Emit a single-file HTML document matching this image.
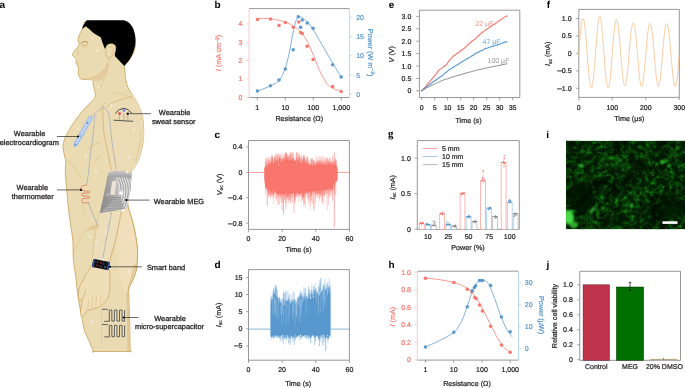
<!DOCTYPE html>
<html><head><meta charset="utf-8"><style>
html,body{margin:0;padding:0;background:#fff;overflow:hidden;}
svg{display:block;will-change:transform;}
text{font-family:"Liberation Sans",sans-serif;text-rendering:geometricPrecision;}
</style></head><body>
<svg width="685" height="388" viewBox="0 0 685 388" font-family="Liberation Sans, sans-serif">
<rect width="685" height="388" fill="#fff"/>
<path d="M87.00,22.00 C93.47,21.83 116.40,20.57 124.00,22.00 C131.60,23.43 130.70,27.03 132.60,30.60 C134.50,34.17 135.28,39.62 135.40,43.40 C135.52,47.18 134.37,50.47 133.30,53.30 C132.23,56.13 130.47,58.28 129.00,60.40 C127.53,62.52 125.15,64.00 124.50,66.00 C123.85,68.00 124.88,70.05 125.10,72.40 C125.32,74.75 125.28,77.52 125.80,80.10 C126.32,82.68 127.17,85.57 128.20,87.90 C129.23,90.23 130.72,92.05 132.00,94.10 C133.28,96.15 134.73,98.15 135.90,100.20 C137.07,102.25 138.10,104.33 139.00,106.40 C139.90,108.47 140.65,110.33 141.30,112.60 C141.95,114.87 142.52,117.43 142.90,120.00 C143.28,122.57 143.52,124.67 143.60,128.00 C143.68,131.33 143.90,135.73 143.40,140.00 C142.90,144.27 141.67,149.77 140.60,153.60 C139.53,157.43 138.52,160.10 137.00,163.00 C135.48,165.90 132.75,166.50 131.50,171.00 C130.25,175.50 130.08,184.17 129.50,190.00 C128.92,195.83 127.30,200.00 128.00,206.00 C128.70,212.00 132.17,219.33 133.70,226.00 C135.23,232.67 136.58,241.00 137.20,246.00 C137.82,251.00 137.50,252.33 137.40,256.00 C137.30,259.67 137.08,264.67 136.60,268.00 C136.12,271.33 135.43,273.42 134.50,276.00 C133.57,278.58 131.97,281.33 131.00,283.50 C130.03,285.67 129.05,286.25 128.70,289.00 C128.35,291.75 128.75,294.83 128.90,300.00 C129.05,305.17 129.40,312.33 129.60,320.00 C129.80,327.67 130.00,340.75 130.10,346.00 C130.20,351.25 130.18,350.58 130.20,351.50 C130.22,352.42 133.23,351.50 130.20,351.50 C127.17,351.50 118.10,351.50 112.00,351.50 C105.90,351.50 96.67,351.50 93.60,351.50 C90.53,351.50 94.40,353.33 93.60,351.50 C92.80,349.67 90.33,344.05 88.80,340.50 C87.27,336.95 85.55,334.07 84.40,330.20 C83.25,326.33 82.75,321.60 81.90,317.30 C81.05,313.00 80.05,308.70 79.30,304.40 C78.55,300.10 77.95,295.78 77.40,291.50 C76.85,287.22 76.53,282.98 76.00,278.70 C75.47,274.42 74.67,269.42 74.20,265.80 C73.73,262.18 73.43,261.30 73.20,257.00 C72.97,252.70 73.27,245.57 72.80,240.00 C72.33,234.43 71.18,229.43 70.40,223.60 C69.62,217.77 68.63,209.80 68.10,205.00 C67.57,200.20 67.55,198.63 67.20,194.80 C66.85,190.97 66.32,186.13 66.00,182.00 C65.68,177.87 65.33,173.33 65.30,170.00 C65.27,166.67 65.92,164.33 65.80,162.00 C65.68,159.67 65.05,158.17 64.60,156.00 C64.15,153.83 63.32,151.08 63.10,149.00 C62.88,146.92 62.90,145.50 63.30,143.50 C63.70,141.50 64.47,139.33 65.50,137.00 C66.53,134.67 68.00,132.08 69.50,129.50 C71.00,126.92 72.87,123.90 74.50,121.50 C76.13,119.10 77.63,117.23 79.30,115.10 C80.97,112.97 82.57,110.85 84.50,108.70 C86.43,106.55 89.15,104.13 90.90,102.20 C92.65,100.27 94.35,99.03 95.00,97.10 C95.65,95.17 95.13,92.75 94.80,90.60 C94.47,88.45 93.43,85.98 93.00,84.20 C92.57,82.42 94.12,80.73 92.20,79.90 C90.28,79.07 83.73,79.95 81.50,79.20 C79.27,78.45 79.33,76.68 78.80,75.40 C78.27,74.12 78.35,72.73 78.30,71.50 C78.25,70.27 78.73,69.17 78.50,68.00 C78.27,66.83 77.33,65.50 76.90,64.50 C76.47,63.50 75.98,62.88 75.90,62.00 C75.82,61.12 76.78,60.10 76.40,59.20 C76.02,58.30 74.27,57.37 73.60,56.60 C72.93,55.83 72.30,55.45 72.40,54.60 C72.50,53.75 73.33,52.68 74.20,51.50 C75.07,50.32 76.75,48.82 77.60,47.50 C78.45,46.18 79.22,44.72 79.30,43.60 C79.38,42.48 78.23,41.90 78.10,40.80 C77.97,39.70 78.10,38.38 78.50,37.00 C78.90,35.62 79.90,33.78 80.50,32.50 C81.10,31.22 81.63,30.50 82.10,29.30 C82.57,28.10 82.78,26.35 83.30,25.30 C83.82,24.25 84.58,23.55 85.20,23.00 C85.82,22.45 80.53,22.17 87.00,22.00Z" fill="#ebdbb3" stroke="#c9a056" stroke-width="0.8" stroke-linejoin="round"/>
<path d="M126.00,205.00 C128.62,205.67 131.83,219.17 133.70,226.00 C135.57,232.83 136.58,241.00 137.20,246.00 C137.82,251.00 137.50,252.33 137.40,256.00 C137.30,259.67 137.08,264.67 136.60,268.00 C136.12,271.33 135.43,273.42 134.50,276.00 C133.57,278.58 131.97,281.33 131.00,283.50 C130.03,285.67 129.62,287.75 128.70,289.00 C127.78,290.25 126.78,292.50 125.50,291.00 C124.22,289.50 122.25,284.83 121.00,280.00 C119.75,275.17 118.83,268.67 118.00,262.00 C117.17,255.33 116.00,246.67 116.00,240.00 C116.00,233.33 116.33,227.83 118.00,222.00 C119.67,216.17 123.38,204.33 126.00,205.00Z" fill="#f0dfba" stroke="none"/>
<path d="M136.4,262 C136,270 133,277 128.8,288.5 L127.2,289 C130,281 132.5,272 133.5,266 Z" fill="#e3cb98"/>
<path d="M128.00,206.00 C128.95,209.33 132.17,219.33 133.70,226.00 C135.23,232.67 136.58,241.00 137.20,246.00 C137.82,251.00 137.50,252.33 137.40,256.00 C137.30,259.67 137.08,264.67 136.60,268.00 C136.12,271.33 135.43,273.42 134.50,276.00 C133.57,278.58 131.97,281.33 131.00,283.50 C130.03,285.67 129.05,286.25 128.70,289.00 C128.35,291.75 128.87,298.17 128.90,300.00" fill="none" stroke="#c9a056" stroke-width="0.8"/>
<path d="M126.6,292 L128.6,289 L129.5,320 L130,351 L127.4,351 Z" fill="#e2c790"/>
<path d="M102.40,103.00 C103.82,99.67 106.73,100.92 110.00,100.00 C113.27,99.08 118.33,98.48 122.00,97.50 C125.67,96.52 129.68,93.65 132.00,94.10 C134.32,94.55 134.73,98.15 135.90,100.20 C137.07,102.25 138.10,104.33 139.00,106.40 C139.90,108.47 140.65,110.33 141.30,112.60 C141.95,114.87 142.52,117.43 142.90,120.00 C143.28,122.57 143.52,124.67 143.60,128.00 C143.68,131.33 143.90,135.73 143.40,140.00 C142.90,144.27 141.67,149.77 140.60,153.60 C139.53,157.43 138.52,160.10 137.00,163.00 C135.48,165.90 136.33,169.50 131.50,171.00 C126.67,172.50 112.58,173.83 108.00,172.00 C103.42,170.17 105.00,165.33 104.00,160.00 C103.00,154.67 102.42,146.67 102.00,140.00 C101.58,133.33 101.43,126.17 101.50,120.00 C101.57,113.83 100.98,106.33 102.40,103.00Z" fill="#ecdcb6" stroke="none"/>
<path d="M103.50,105.50 C103.38,106.58 102.75,107.67 102.80,112.00 C102.85,116.33 103.35,126.50 103.80,131.50 C104.25,136.50 104.85,138.55 105.50,142.00 C106.15,145.45 107.03,149.03 107.70,152.20 C108.37,155.37 108.87,158.00 109.50,161.00 C110.13,164.00 111.17,168.67 111.50,170.20" fill="none" stroke="#c9a056" stroke-width="0.6"/>
<path d="M93.50,165.00 C94.08,164.00 95.72,160.72 97.00,159.00 C98.28,157.28 100.50,155.42 101.20,154.70" fill="none" stroke="#d8b877" stroke-width="0.5"/>
<path d="M105.50,108.50 C106.42,107.67 108.68,104.90 111.00,103.50 C113.32,102.10 116.90,101.02 119.40,100.10 C121.90,99.18 123.85,98.60 126.00,98.00 C128.15,97.40 131.25,96.75 132.30,96.50" fill="none" stroke="#c9a056" stroke-width="0.55"/>
<path d="M141.00,130.00 C140.88,131.67 140.72,136.50 140.30,140.00 C139.88,143.50 139.30,147.45 138.50,151.00 C137.70,154.55 136.00,159.58 135.50,161.30" fill="none" stroke="#d8b877" stroke-width="0.55"/>
<path d="M106.00,102.80 C105.25,103.42 102.42,104.97 101.50,106.50 C100.58,108.03 100.67,111.08 100.50,112.00" fill="none" stroke="#d8b877" stroke-width="0.6"/>
<path d="M99.40,212.00 C103.27,211.28 118.02,209.62 121.50,210.00 C124.98,210.38 121.27,209.33 120.30,214.30 C119.33,219.27 117.43,232.07 115.70,239.80 C113.97,247.53 111.18,255.67 109.90,260.70 C108.62,265.73 110.82,269.12 108.00,270.00 C105.18,270.88 95.58,267.93 93.00,266.00 C90.42,264.07 92.20,263.15 92.50,258.40 C92.80,253.65 93.83,244.85 94.80,237.50 C95.77,230.15 97.53,218.55 98.30,214.30 C99.07,210.05 95.53,212.72 99.40,212.00Z" fill="#eddebb" stroke="none"/>
<path d="M121.50,211.00 C121.00,213.50 119.47,221.20 118.50,226.00 C117.53,230.80 116.70,235.63 115.70,239.80 C114.70,243.97 113.47,247.52 112.50,251.00 C111.53,254.48 110.33,259.08 109.90,260.70" fill="none" stroke="#c9a056" stroke-width="0.7"/>
<path d="M99.40,212.00 C98.92,214.33 97.27,221.75 96.50,226.00 C95.73,230.25 95.33,233.83 94.80,237.50 C94.27,241.17 93.68,244.52 93.30,248.00 C92.92,251.48 92.63,256.67 92.50,258.40" fill="none" stroke="#d8b877" stroke-width="0.6"/>
<path d="M93.20,264.60 C90.02,264.52 90.62,268.02 89.50,269.50 C88.38,270.98 87.73,271.42 86.50,273.50 C85.27,275.58 83.22,279.82 82.10,282.00 C80.98,284.18 80.38,284.87 79.80,286.60 C79.22,288.33 78.80,290.47 78.60,292.40 C78.40,294.33 78.30,296.90 78.60,298.20 C78.90,299.50 79.77,299.98 80.40,300.20 C81.03,300.42 82.22,298.70 82.40,299.50 C82.58,300.30 81.80,303.25 81.50,305.00 C81.20,306.75 80.75,308.43 80.60,310.00 C80.45,311.57 80.35,313.37 80.60,314.40 C80.85,315.43 81.37,316.27 82.10,316.20 C82.83,316.13 84.13,314.95 85.00,314.00 C85.87,313.05 86.23,311.27 87.30,310.50 C88.37,309.73 90.23,309.68 91.40,309.40 C92.57,309.12 93.33,309.08 94.30,308.80 C95.27,308.52 96.13,308.12 97.20,307.70 C98.27,307.28 99.53,307.12 100.70,306.30 C101.87,305.48 103.05,304.15 104.20,302.80 C105.35,301.45 106.73,299.93 107.60,298.20 C108.47,296.47 109.00,294.33 109.40,292.40 C109.80,290.47 109.97,288.67 110.00,286.60 C110.03,284.53 109.83,282.77 109.60,280.00 C109.37,277.23 111.33,272.57 108.60,270.00 C105.87,267.43 96.38,264.68 93.20,264.60Z" fill="#efdfb9" stroke="#c9a056" stroke-width="0.7" stroke-linejoin="round"/>
<path d="M85.60,289.50 C85.33,290.33 84.50,292.92 84.00,294.50 C83.50,296.08 82.83,298.25 82.60,299.00" fill="none" stroke="#c9a056" stroke-width="0.6"/>
<path d="M89.1,299.4 L87.6,309.6" fill="none" stroke="#d8b877" stroke-width="0.5"/>
<path d="M92.6,297 L91.6,309.1" fill="none" stroke="#d8b877" stroke-width="0.5"/>
<path d="M96.6,295.9 L95.6,308.4" fill="none" stroke="#d8b877" stroke-width="0.5"/>
<path d="M101.3,295.9 L100.3,305.8" fill="none" stroke="#d8b877" stroke-width="0.5"/>
<path d="M85.5,231 C89,227.5 94,225.5 98.3,224.5 L98.6,229 C94,229 89.5,230 85.5,231 Z" fill="#e2c995"/>
<path d="M85.50,231.00 C86.25,230.38 88.50,228.22 90.00,227.30 C91.50,226.38 93.12,225.97 94.50,225.50 C95.88,225.03 97.67,224.67 98.30,224.50" fill="none" stroke="#d8b877" stroke-width="0.55"/>
<path d="M85.50,231.00 C84.67,232.17 81.92,235.68 80.50,238.00 C79.08,240.32 78.10,242.73 77.00,244.90 C75.90,247.07 74.42,249.98 73.90,251.00" fill="none" stroke="#d8b877" stroke-width="0.5"/>
<path d="M81.70,204.60 C82.00,205.50 83.12,208.18 83.50,210.00 C83.88,211.82 83.92,214.58 84.00,215.50" fill="none" stroke="#d8b877" stroke-width="0.45"/>
<path d="M87.40,149.80 C88.33,149.00 90.90,146.18 93.00,145.00 C95.10,143.82 98.83,143.08 100.00,142.70" fill="none" stroke="#d8b877" stroke-width="0.5"/>
<path d="M67.90,160.00 C69.08,161.33 72.63,164.78 75.00,168.00 C77.37,171.22 80.92,177.42 82.10,179.30" fill="none" stroke="#d8b877" stroke-width="0.5"/>
<path d="M109.3,57.5 C108.5,65 104,71.5 95,76.6 C90,78.8 86,79.3 82,79.3 L92.4,80.2 C97,81.8 102.5,80.5 105.5,77 C108.2,73 109.4,66 109.3,57.5 Z" fill="#e3cd9e"/>
<path d="M109.3,57.5 C108.5,65 104,71.5 95,76.6 C90,78.8 86,79.3 82,79.3" fill="none" stroke="#d8b877" stroke-width="0.55"/>
<path d="M104.50,79.00 C104.00,80.00 102.50,82.92 101.50,85.00 C100.50,87.08 99.00,90.42 98.50,91.50" fill="none" stroke="#d8b877" stroke-width="0.5"/>
<path d="M113.00,93.00 C114.33,93.08 118.33,92.83 121.00,93.50 C123.67,94.17 126.67,95.75 129.00,97.00 C131.33,98.25 134.00,100.33 135.00,101.00" fill="none" stroke="#d8b877" stroke-width="0.45"/>
<path d="M86.6,20.3 L124,20.3 C129.5,21.5 134,27 135.2,36 C136.2,44 134.6,52 129,60.4 L124.3,66.1 L119.1,60.4 L114.9,56.1 L115.4,47 C113,44 109,43.5 107,45 L104.9,49 L102.8,43.4 L100.7,37.2 L95.9,34.6 L92.8,32.5 L89.2,28.9 L85.6,26.3 L82.1,29.3 L83.3,25.3 Z" fill="#000" stroke="none"/>
<path d="M107.80,44.80 C108.77,44.18 110.70,43.57 112.00,43.80 C113.30,44.03 115.12,44.73 115.60,46.20 C116.08,47.67 115.50,50.95 114.90,52.60 C114.30,54.25 113.30,55.27 112.00,56.10 C110.70,56.93 108.13,58.28 107.10,57.60 C106.07,56.92 105.95,53.68 105.80,52.00 C105.65,50.32 105.87,48.70 106.20,47.50 C106.53,46.30 106.83,45.42 107.80,44.80Z" fill="#ebdbb3" stroke="#c9a056" stroke-width="0.6"/>
<path d="M109.00,47.50 C109.58,47.42 111.83,46.42 112.50,47.00 C113.17,47.58 113.33,49.75 113.00,51.00 C112.67,52.25 110.92,53.92 110.50,54.50" fill="none" stroke="#d8b877" stroke-width="0.5"/>
<path d="M80.6,43.2 Q84,40 88.2,42.4" fill="none" stroke="#c39545" stroke-width="1.0"/>
<path d="M81.3,44.2 Q84.8,47.2 88,43.4" fill="none" stroke="#c9a056" stroke-width="0.6"/>
<path d="M82.5,46.5 Q85,47.8 87.2,46.6" fill="none" stroke="#d8b877" stroke-width="0.45"/>
<path d="M77.6,49.5 Q79,54 77.8,56.5" fill="none" stroke="#d8b877" stroke-width="0.5"/>
<path d="M76.6,63.3 L79.5,63.8" fill="none" stroke="#d8b877" stroke-width="0.5"/>
<path d="M92.00,117.70 C92.48,117.03 93.65,115.10 94.90,113.70 C96.15,112.30 98.00,110.30 99.50,109.30 C101.00,108.30 102.53,107.32 103.90,107.70 C105.27,108.08 106.73,109.67 107.70,111.60 C108.67,113.53 109.05,114.78 109.70,119.30 C110.35,123.82 110.80,132.25 111.60,138.70 C112.40,145.15 113.70,152.87 114.50,158.00 C115.30,163.13 116.08,167.58 116.40,169.50" fill="none" stroke="#a3abb8" stroke-width="0.75"/>
<path d="M94.90,114.30 C94.72,116.62 94.28,123.38 93.80,128.20 C93.32,133.02 92.48,139.57 92.00,143.20 C91.52,146.83 91.27,147.20 90.90,150.00 C90.53,152.80 90.25,155.83 89.80,160.00 C89.35,164.17 88.73,170.92 88.20,175.00 C87.67,179.08 86.87,182.92 86.60,184.50" fill="none" stroke="#a3abb8" stroke-width="0.75"/>
<path d="M88.1,202.2 L98.1,226.6" fill="none" stroke="#a3abb8" stroke-width="0.75"/>
<path d="M111.6,212.1 L102.6,259.1" fill="none" stroke="#a3abb8" stroke-width="0.75"/>
<path d="M101.7,309 L101.7,343.6" fill="none" stroke="#c4c8d0" stroke-width="0.75"/>
<path d="M90.6,116.2 C92.2,116.8 92.4,118.8 91.6,120.2 L77,145.8 C76,147.2 74.2,146.8 73.8,145.4 C73.6,144.6 73.8,144 74.2,143.3 L88.6,117.2 C89.1,116.4 89.8,116 90.6,116.2 Z" fill="#b3cff3" stroke="#7ea6e6" stroke-width="0.55"/>
<path d="M88.5,121 L77.5,141" stroke="#dbe8fa" stroke-width="0.8" stroke-dasharray="1.2 1"/>
<circle cx="87.4" cy="123" r="0.7" fill="#3a5aa0"/><circle cx="75.6" cy="144.6" r="0.7" fill="#3a5aa0"/><circle cx="80.4" cy="136" r="0.5" fill="#3a5aa0"/>
<path d="M115.1,113.4 Q123.6,103.2 131.9,113.4" fill="none" stroke="#222" stroke-width="0.8"/>
<path d="M113.6,120.2 L133.1,121.3" fill="none" stroke="#333" stroke-width="0.8"/>
<path d="M119.5,113.5 L119.5,120.6" stroke="#777" stroke-width="0.4"/>
<path d="M123.9,113.5 L123.9,120.6" stroke="#777" stroke-width="0.4"/>
<path d="M127.8,113.5 L127.8,120.6" stroke="#777" stroke-width="0.4"/>
<circle cx="119.5" cy="113.6" r="1.4" fill="#e8474f"/>
<circle cx="123.9" cy="110.4" r="1.3" fill="#6b86e0"/>
<circle cx="127.8" cy="113.7" r="1.2" fill="#111"/>
<path d="M87.1,185.1 C84,185.2 81,186 81,188.5 C81,190.5 84,191 88.3,191.2 C90.1,191.4 90.1,192.8 88.3,192.9 L83,193.2 C81.2,193.4 81.2,195.6 83,195.8 L88.6,196.3 C90.4,196.5 90.4,198 88.6,198.1 L83,198.5 C81.4,198.7 81.4,203 83.2,203 L89,202.7" fill="none" stroke="#d8805e" stroke-width="0.9"/>
<defs><linearGradient id="megg" x1="0" y1="0" x2="1" y2="0"><stop offset="0" stop-color="#858585"/><stop offset="0.3" stop-color="#a6a6a6"/><stop offset="0.62" stop-color="#bdbdbd"/><stop offset="0.85" stop-color="#d0d0d0"/><stop offset="1" stop-color="#b0b0b0"/></linearGradient><linearGradient id="megr" x1="0" y1="0" x2="0" y2="1"><stop offset="0" stop-color="#c9c9c9"/><stop offset="1" stop-color="#9c9c9c"/></linearGradient><clipPath id="megc"><path d="M108.3,173.1 C112,170.3 126,169.9 131.5,174.4 L130.8,189.2 L127.6,202.1 L126.3,208.6 C118,210.2 108,212 99.9,213.1 L103.1,198.3 L107,178.9 Z"/></clipPath></defs>
<path d="M108.3,173.1 C112,170.3 126,169.9 131.5,174.4 L130.8,189.2 L127.6,202.1 L126.3,208.6 C118,210.2 108,212 99.9,213.1 L103.1,198.3 L107,178.9 Z" fill="url(#megg)"/>
<g clip-path="url(#megc)">
<path d="M117,177 L132,175 L129,210 L118,211 Z" fill="#c2c2c2"/>
<path d="M116.50,176.5 Q124.00,191 115.50,209" fill="none" stroke="#e4e4e4" stroke-width="1.1"/>
<path d="M117.70,176.5 Q125.20,191 116.70,209" fill="none" stroke="#8e8e8e" stroke-width="0.55"/>
<path d="M118.90,176.5 Q126.40,191 117.90,209" fill="none" stroke="#e4e4e4" stroke-width="1.1"/>
<path d="M120.10,176.5 Q127.60,191 119.10,209" fill="none" stroke="#8e8e8e" stroke-width="0.55"/>
<path d="M121.30,176.5 Q128.80,191 120.30,209" fill="none" stroke="#e4e4e4" stroke-width="1.1"/>
<path d="M122.50,176.5 Q130.00,191 121.50,209" fill="none" stroke="#8e8e8e" stroke-width="0.55"/>
<path d="M123.70,176.5 Q131.20,191 122.70,209" fill="none" stroke="#e4e4e4" stroke-width="1.1"/>
<path d="M124.90,176.5 Q132.40,191 123.90,209" fill="none" stroke="#8e8e8e" stroke-width="0.55"/>
<path d="M126.10,176.5 Q133.60,191 125.10,209" fill="none" stroke="#e4e4e4" stroke-width="1.1"/>
<path d="M127.30,176.5 Q134.80,191 126.30,209" fill="none" stroke="#8e8e8e" stroke-width="0.55"/>
<path d="M128.50,176.5 Q136.00,191 127.50,209" fill="none" stroke="#e4e4e4" stroke-width="1.1"/>
<path d="M129.70,176.5 Q137.20,191 128.70,209" fill="none" stroke="#8e8e8e" stroke-width="0.55"/>
<path d="M99,214 L119.5,194 L125,210 Z" fill="#b8b8b8"/>
<path d="M99.00,200.00 Q110.00,196.30 121.00,197.70" fill="none" stroke="#7a7a7a" stroke-width="0.6"/>
<path d="M99.00,202.15 Q110.00,198.45 121.55,199.85" fill="none" stroke="#7a7a7a" stroke-width="0.6"/>
<path d="M99.00,204.30 Q110.00,200.60 122.10,202.00" fill="none" stroke="#7a7a7a" stroke-width="0.6"/>
<path d="M99.00,206.45 Q110.00,202.75 122.65,204.15" fill="none" stroke="#7a7a7a" stroke-width="0.6"/>
<path d="M99.00,208.60 Q110.00,204.90 123.20,206.30" fill="none" stroke="#7a7a7a" stroke-width="0.6"/>
<path d="M99.00,210.75 Q110.00,207.05 123.75,208.45" fill="none" stroke="#7a7a7a" stroke-width="0.6"/>
<path d="M99.00,212.90 Q110.00,209.20 124.30,210.60" fill="none" stroke="#7a7a7a" stroke-width="0.6"/>
<path d="M101,213 L104,190 L110,182 L112.5,196 L119.5,194 Z" fill="#9a9a9a" opacity="0.35"/>
<path d="M107,176 L131.5,176 L131.5,178.8 C125,176.8 113,177 107,179.4 Z" fill="#a8a8a8"/>
<path d="M108.3,173.1 C112,170.3 126,169.9 131.5,174.4 L131.5,177.6 C125,175.6 113,175.8 107.6,178 Z" fill="url(#megr)"/>
</g>
<path d="M112.1,181.5 L116.6,180.8 L114.7,195 L110.2,194.4 Z" fill="#ebe2d6"/>
<circle cx="121.2" cy="193.1" r="2.1" fill="#ffffff" opacity="0.95" filter="url(#fb)"/>
<circle cx="121.2" cy="193.1" r="1.3" fill="#ffffff"/>
<circle cx="123.1" cy="210.3" r="1.4" fill="#ffffff" opacity="0.85"/>
<circle cx="127.2" cy="172.3" r="1.1" fill="#ffffff" opacity="0.8"/>
<circle cx="107.5" cy="194.5" r="0.8" fill="#ffffff" opacity="0.7"/>
<g transform="rotate(11 101 264.2)"><rect x="92.5" y="260.3" width="17" height="8.4" rx="1.5" fill="#1c1f2a"/><rect x="92.5" y="260.3" width="1.7" height="8.4" rx="0.8" fill="#34509a"/><rect x="107.8" y="260.3" width="1.7" height="8.4" rx="0.8" fill="#34509a"/><rect x="94.8" y="261.3" width="12.2" height="6.4" rx="0.6" fill="#0d0f15"/><circle cx="97" cy="262.8" r="0.55" fill="#3c3"/><circle cx="100.4" cy="262.8" r="0.7" fill="#e33"/><circle cx="103.6" cy="263.4" r="0.55" fill="#39f"/><circle cx="105.4" cy="266.2" r="0.7" fill="#2cd"/><rect x="96.6" y="265.7" width="3" height="0.7" fill="#b33"/><rect x="100.5" y="266.3" width="2.2" height="0.6" fill="#e44"/></g>
<path d="M101.9,309.3 H107.9 M104.2,321.3 H109.6" fill="none" stroke="#5a5a5a" stroke-width="0.95"/>
<path d="M109.3,321.3 V310.1 H111.85 V321.10 H114.40 V310.10 H116.95 V321.10 H119.50 V310.10 H122.05 V321.10 H124.60 V310.10" fill="none" stroke="#5a5a5a" stroke-width="0.95" stroke-linejoin="miter"/>
<path d="M101.9,324.6 H107.9 M104.2,336.9 H109.6" fill="none" stroke="#5a5a5a" stroke-width="0.95"/>
<path d="M109.3,336.9 V325.40000000000003 H111.85 V336.70 H114.40 V325.40 H116.95 V336.70 H119.50 V325.40 H122.05 V336.70 H124.60 V325.40" fill="none" stroke="#5a5a5a" stroke-width="0.95" stroke-linejoin="miter"/>
<path d="M99.00,85.80 Q97.40,87.70 98.70,88.80 Q99.60,88.30 99.50,87.30" fill="none" stroke="#ffffff" stroke-width="0.6" opacity="0.95"/>
<path d="M111.80,103.90 Q110.20,105.80 111.50,106.90 Q112.40,106.40 112.30,105.40" fill="none" stroke="#ffffff" stroke-width="0.6" opacity="0.95"/>
<path d="M78.30,127.10 Q76.70,129.00 78.00,130.10 Q78.90,129.60 78.80,128.60" fill="none" stroke="#ffffff" stroke-width="0.6" opacity="0.95"/>
<path d="M86.10,154.10 Q84.50,156.00 85.80,157.10 Q86.70,156.60 86.60,155.60" fill="none" stroke="#ffffff" stroke-width="0.6" opacity="0.95"/>
<path d="M96.40,169.60 Q94.80,171.50 96.10,172.60 Q97.00,172.10 96.90,171.10" fill="none" stroke="#ffffff" stroke-width="0.6" opacity="0.95"/>
<path d="M133.80,128.40 Q132.20,130.30 133.50,131.40 Q134.40,130.90 134.30,129.90" fill="none" stroke="#ffffff" stroke-width="0.6" opacity="0.95"/>
<path d="M129.40,155.40 Q127.80,157.30 129.10,158.40 Q130.00,157.90 129.90,156.90" fill="none" stroke="#ffffff" stroke-width="0.6" opacity="0.95"/>
<path d="M92.60,36.60 Q91.00,38.50 92.30,39.60 Q93.20,39.10 93.10,38.10" fill="none" stroke="#ffffff" stroke-width="0.6" opacity="0.95"/>
<path d="M97.60,49.10 Q96.00,51.00 97.30,52.10 Q98.20,51.60 98.10,50.60" fill="none" stroke="#ffffff" stroke-width="0.6" opacity="0.95"/>
<path d="M90.30,235.10 Q88.70,237.00 90.00,238.10 Q90.90,237.60 90.80,236.60" fill="none" stroke="#ffffff" stroke-width="0.6" opacity="0.95"/>
<path d="M96.50,240.80 Q94.90,242.70 96.20,243.80 Q97.10,243.30 97.00,242.30" fill="none" stroke="#ffffff" stroke-width="0.6" opacity="0.95"/>
<path d="M128.50,269.60 Q126.90,271.50 128.20,272.60 Q129.10,272.10 129.00,271.10" fill="none" stroke="#ffffff" stroke-width="0.6" opacity="0.95"/>
<path d="M92.60,320.10 Q91.00,322.00 92.30,323.10 Q93.20,322.60 93.10,321.60" fill="none" stroke="#ffffff" stroke-width="0.6" opacity="0.95"/>
<path d="M103.30,257.60 Q101.70,259.50 103.00,260.60 Q103.90,260.10 103.80,259.10" fill="none" stroke="#ffffff" stroke-width="0.6" opacity="0.95"/>
<path d="M106.30,230.10 Q104.70,232.00 106.00,233.10 Q106.90,232.60 106.80,231.60" fill="none" stroke="#ffffff" stroke-width="0.6" opacity="0.95"/>
<line x1="129.7" y1="113.7" x2="150.9" y2="113.7" stroke="#2a2a2a" stroke-width="0.7"/>
<line x1="56.9" y1="136.5" x2="78.1" y2="136.5" stroke="#2a2a2a" stroke-width="0.7"/>
<circle cx="78.1" cy="136.5" r="1.1" fill="#000"/>
<line x1="56.9" y1="189.9" x2="81" y2="189.9" stroke="#2a2a2a" stroke-width="0.7"/>
<circle cx="81" cy="189.9" r="1.1" fill="#000"/>
<line x1="126.3" y1="200.1" x2="149.6" y2="200.1" stroke="#2a2a2a" stroke-width="0.7"/>
<circle cx="126.3" cy="200.1" r="1.1" fill="#000"/>
<line x1="109.9" y1="266.8" x2="142" y2="266.8" stroke="#2a2a2a" stroke-width="0.7"/>
<circle cx="109.9" cy="266.8" r="1.1" fill="#000"/>
<line x1="123.6" y1="317.5" x2="138.7" y2="317.5" stroke="#2a2a2a" stroke-width="0.7"/>
<circle cx="123.6" cy="317.5" r="1.0" fill="#000"/>
<text x="174.6" y="115.1" font-size="7.4" text-anchor="middle" fill="#231f20" stroke="#231f20" stroke-width="0.28">Wearable</text>
<text x="173.7" y="124.0" font-size="7.4" text-anchor="middle" fill="#231f20" stroke="#231f20" stroke-width="0.28">sweat sensor</text>
<text x="29.6" y="136.1" font-size="7.4" text-anchor="middle" fill="#231f20" stroke="#231f20" stroke-width="0.28">Wearable</text>
<text x="29.3" y="144.8" font-size="7.4" text-anchor="middle" fill="#231f20" stroke="#231f20" stroke-width="0.28">electrocardiogram</text>
<text x="32.3" y="190.0" font-size="7.4" text-anchor="middle" fill="#231f20" stroke="#231f20" stroke-width="0.28">Wearable</text>
<text x="32.7" y="198.6" font-size="7.4" text-anchor="middle" fill="#231f20" stroke="#231f20" stroke-width="0.28">thermometer</text>
<text x="153.7" y="203.8" font-size="7.4" text-anchor="start" fill="#231f20" stroke="#231f20" stroke-width="0.28">Wearable MEG</text>
<text x="146.9" y="270.0" font-size="7.4" text-anchor="start" fill="#231f20" stroke="#231f20" stroke-width="0.28">Smart band</text>
<text x="170.0" y="320.5" font-size="7.4" text-anchor="middle" fill="#231f20" stroke="#231f20" stroke-width="0.28">Wearable</text>
<text x="169.5" y="329.2" font-size="7.4" text-anchor="middle" fill="#231f20" stroke="#231f20" stroke-width="0.28">micro-supercapacitor</text>
<text x="-0.6" y="7.8" font-size="10" font-weight="bold" style="font-family:'Liberation Sans',sans-serif" fill="#000">a</text>
<text x="214.6" y="7.7" font-size="10" font-weight="bold" style="font-family:'Liberation Sans',sans-serif" fill="#000">b</text>
<text x="214.6" y="137.8" font-size="10" font-weight="bold" style="font-family:'Liberation Sans',sans-serif" fill="#000">c</text>
<text x="214.6" y="267.8" font-size="10" font-weight="bold" style="font-family:'Liberation Sans',sans-serif" fill="#000">d</text>
<text x="388.8" y="7.8" font-size="10" font-weight="bold" style="font-family:'Liberation Sans',sans-serif" fill="#000">e</text>
<text x="546.8" y="7.7" font-size="10" font-weight="bold" style="font-family:'Liberation Sans',sans-serif" fill="#000">f</text>
<text x="388.0" y="137.2" font-size="10.8" font-weight="bold" style="font-family:'Liberation Serif',serif" fill="#000">g</text>
<text x="388.4" y="267.8" font-size="10" font-weight="bold" style="font-family:'Liberation Sans',sans-serif" fill="#000">h</text>
<text x="546.2" y="137.8" font-size="10" font-weight="bold" style="font-family:'Liberation Sans',sans-serif" fill="#000">i</text>
<text x="546.6" y="267.8" font-size="10" font-weight="bold" style="font-family:'Liberation Sans',sans-serif" fill="#000">j</text>
<line x1="249.1" y1="8.6" x2="349.4" y2="8.6" stroke="#8c8c8c" stroke-width="0.9" />
<line x1="249.1" y1="97.5" x2="349.4" y2="97.5" stroke="#8c8c8c" stroke-width="0.9" />
<line x1="249.1" y1="8.6" x2="249.1" y2="97.5" stroke="#fbc4bf" stroke-width="0.9" />
<line x1="349.4" y1="8.6" x2="349.4" y2="97.5" stroke="#b5d5ee" stroke-width="0.9" />
<line x1="246.5" y1="97.3" x2="249.1" y2="97.3" stroke="#fbc4bf" stroke-width="0.8" />
<text x="242.5" y="99.8" font-size="7.0" text-anchor="end" fill="#f8766d"  stroke="#f8766d" stroke-width="0.22">0</text>
<line x1="246.5" y1="78.93" x2="249.1" y2="78.93" stroke="#fbc4bf" stroke-width="0.8" />
<text x="242.5" y="81.43" font-size="7.0" text-anchor="end" fill="#f8766d"  stroke="#f8766d" stroke-width="0.22">1</text>
<line x1="246.5" y1="60.56" x2="249.1" y2="60.56" stroke="#fbc4bf" stroke-width="0.8" />
<text x="242.5" y="63.06" font-size="7.0" text-anchor="end" fill="#f8766d"  stroke="#f8766d" stroke-width="0.22">2</text>
<line x1="246.5" y1="42.19" x2="249.1" y2="42.19" stroke="#fbc4bf" stroke-width="0.8" />
<text x="242.5" y="44.69" font-size="7.0" text-anchor="end" fill="#f8766d"  stroke="#f8766d" stroke-width="0.22">3</text>
<line x1="246.5" y1="23.82" x2="249.1" y2="23.82" stroke="#fbc4bf" stroke-width="0.8" />
<text x="242.5" y="26.32" font-size="7.0" text-anchor="end" fill="#f8766d"  stroke="#f8766d" stroke-width="0.22">4</text>
<line x1="349.4" y1="94.3" x2="352" y2="94.3" stroke="#b5d5ee" stroke-width="0.8" />
<text x="356.2" y="96.8" font-size="7.0" text-anchor="start" fill="#5898cf"  stroke="#5898cf" stroke-width="0.22">0</text>
<line x1="349.4" y1="75.07" x2="352" y2="75.07" stroke="#b5d5ee" stroke-width="0.8" />
<text x="356.2" y="77.57" font-size="7.0" text-anchor="start" fill="#5898cf"  stroke="#5898cf" stroke-width="0.22">5</text>
<line x1="349.4" y1="55.85" x2="352" y2="55.85" stroke="#b5d5ee" stroke-width="0.8" />
<text x="356.2" y="58.35" font-size="7.0" text-anchor="start" fill="#5898cf"  stroke="#5898cf" stroke-width="0.22">10</text>
<line x1="349.4" y1="36.62" x2="352" y2="36.62" stroke="#b5d5ee" stroke-width="0.8" />
<text x="356.2" y="39.12" font-size="7.0" text-anchor="start" fill="#5898cf"  stroke="#5898cf" stroke-width="0.22">15</text>
<line x1="349.4" y1="17.4" x2="352" y2="17.4" stroke="#b5d5ee" stroke-width="0.8" />
<text x="356.2" y="19.9" font-size="7.0" text-anchor="start" fill="#5898cf"  stroke="#5898cf" stroke-width="0.22">20</text>
<line x1="257.3" y1="97.5" x2="257.3" y2="100.3" stroke="#8c8c8c" stroke-width="0.8" />
<text x="257.3" y="109.5" font-size="7.0" text-anchor="middle" fill="#231f20"  stroke="#231f20" stroke-width="0.22">1</text>
<line x1="285.3" y1="97.5" x2="285.3" y2="100.3" stroke="#8c8c8c" stroke-width="0.8" />
<text x="285.3" y="109.5" font-size="7.0" text-anchor="middle" fill="#231f20"  stroke="#231f20" stroke-width="0.22">10</text>
<line x1="313.3" y1="97.5" x2="313.3" y2="100.3" stroke="#8c8c8c" stroke-width="0.8" />
<text x="313.3" y="109.5" font-size="7.0" text-anchor="middle" fill="#231f20"  stroke="#231f20" stroke-width="0.22">100</text>
<line x1="341.3" y1="97.5" x2="341.3" y2="100.3" stroke="#8c8c8c" stroke-width="0.8" />
<text x="341.3" y="109.5" font-size="7.0" text-anchor="middle" fill="#231f20"  stroke="#231f20" stroke-width="0.22">1,000</text>
<text x="299.25" y="120.9" font-size="7.2" text-anchor="middle" fill="#231f20"  stroke="#231f20" stroke-width="0.22">Resistance (Ω)</text>
<text x="221.2" y="53" font-size="7.2" text-anchor="middle" fill="#f8766d" transform="rotate(-90 221.2 53)" stroke="#f8766d" stroke-width="0.22"><tspan font-style="italic">I</tspan> (mA cm<tspan font-size="5" dy="-2.6">−2</tspan><tspan dy="2.6">)</tspan></text>
<text x="367.9" y="52.5" font-size="7.2" text-anchor="middle" fill="#5898cf" transform="rotate(90 367.9 52.5)" stroke="#5898cf" stroke-width="0.22">Power (W m<tspan font-size="5" dy="-2.6">−2</tspan><tspan dy="2.6">)</tspan></text>
<polyline points="257.4,18.4 258.05,18.42 258.86,18.43 259.82,18.43 260.89,18.44 262.05,18.45 263.28,18.46 264.56,18.49 265.87,18.53 267.18,18.59 268.47,18.67 269.72,18.77 270.9,18.9 272.06,19.06 273.25,19.24 274.45,19.43 275.67,19.65 276.9,19.89 278.11,20.14 279.31,20.4 280.49,20.68 281.64,20.97 282.74,21.27 283.8,21.58 284.8,21.9 285.74,22.23 286.64,22.57 287.5,22.93 288.33,23.3 289.12,23.68 289.89,24.07 290.63,24.48 291.35,24.89 292.05,25.31 292.74,25.73 293.42,26.16 294.1,26.6 294.76,27.04 295.4,27.48 296.02,27.92 296.62,28.37 297.2,28.82 297.77,29.29 298.32,29.76 298.87,30.26 299.41,30.76 299.94,31.29 300.47,31.83 301,32.4 301.52,32.98 302.03,33.56 302.53,34.16 303.01,34.76 303.49,35.38 303.97,36.02 304.44,36.68 304.91,37.37 305.38,38.1 305.85,38.86 306.32,39.66 306.8,40.5 307.29,41.4 307.78,42.36 308.28,43.38 308.77,44.43 309.27,45.52 309.77,46.63 310.26,47.75 310.75,48.88 311.23,49.99 311.7,51.09 312.16,52.17 312.6,53.2 313.03,54.21 313.45,55.21 313.85,56.2 314.25,57.19 314.64,58.17 315.03,59.14 315.4,60.1 315.78,61.06 316.16,62 316.54,62.94 316.92,63.88 317.3,64.8 317.68,65.72 318.06,66.63 318.43,67.53 318.8,68.43 319.16,69.31 319.53,70.19 319.9,71.07 320.28,71.93 320.67,72.79 321.07,73.63 321.47,74.47 321.9,75.3 322.34,76.13 322.8,76.98 323.27,77.83 323.74,78.68 324.23,79.52 324.73,80.35 325.22,81.15 325.72,81.93 326.22,82.67 326.72,83.36 327.21,84.01 327.7,84.6 328.18,85.13 328.64,85.6 329.1,86.03 329.55,86.41 330,86.76 330.46,87.08 330.92,87.38 331.4,87.65 331.89,87.92 332.4,88.18 332.94,88.43 333.5,88.7 334.12,88.97 334.81,89.23 335.55,89.48 336.33,89.71 337.12,89.94 337.91,90.16 338.68,90.36 339.41,90.54 340.09,90.71 340.69,90.86 341.2,90.99 341.6,91.1" fill="none" stroke="#f8766d" stroke-width="0.8" stroke-linejoin="round" />
<polyline points="257.4,91.1 258.07,90.84 258.93,90.51 259.95,90.13 261.1,89.7 262.34,89.23 263.64,88.73 264.97,88.22 266.3,87.69 267.59,87.17 268.81,86.66 269.92,86.16 270.9,85.7 271.77,85.27 272.59,84.88 273.36,84.5 274.09,84.13 274.77,83.77 275.43,83.39 276.06,83 276.67,82.58 277.26,82.12 277.85,81.61 278.42,81.04 279,80.4 279.57,79.71 280.11,78.98 280.64,78.22 281.15,77.42 281.64,76.58 282.12,75.71 282.58,74.79 283.04,73.82 283.49,72.81 283.93,71.76 284.37,70.65 284.8,69.5 285.23,68.28 285.65,66.99 286.06,65.64 286.46,64.23 286.86,62.77 287.24,61.28 287.62,59.76 287.99,58.23 288.36,56.69 288.71,55.14 289.06,53.61 289.4,52.1 289.73,50.58 290.05,49.02 290.35,47.42 290.65,45.81 290.94,44.2 291.22,42.58 291.5,40.98 291.77,39.4 292.05,37.85 292.33,36.34 292.61,34.89 292.9,33.5 293.19,32.14 293.49,30.78 293.79,29.43 294.09,28.11 294.39,26.81 294.69,25.56 294.99,24.37 295.29,23.24 295.57,22.18 295.86,21.22 296.13,20.35 296.4,19.6 296.65,18.96 296.89,18.44 297.12,18.02 297.33,17.68 297.55,17.42 297.76,17.23 297.97,17.09 298.19,17 298.42,16.93 298.66,16.88 298.92,16.84 299.2,16.8 299.49,16.76 299.79,16.75 300.09,16.76 300.4,16.81 300.71,16.88 301.04,16.99 301.39,17.13 301.75,17.3 302.13,17.52 302.53,17.77 302.95,18.06 303.4,18.4 303.87,18.77 304.37,19.16 304.88,19.58 305.41,20.03 305.96,20.52 306.53,21.06 307.12,21.64 307.72,22.27 308.34,22.95 308.98,23.7 309.63,24.52 310.3,25.4 310.99,26.37 311.71,27.44 312.46,28.58 313.22,29.79 314,31.06 314.8,32.38 315.6,33.72 316.41,35.09 317.22,36.46 318.02,37.83 318.82,39.18 319.6,40.5 320.38,41.83 321.18,43.19 321.98,44.58 322.79,45.99 323.6,47.4 324.4,48.82 325.2,50.22 325.98,51.6 326.74,52.95 327.49,54.25 328.21,55.51 328.9,56.7 329.56,57.84 330.2,58.93 330.82,59.98 331.42,60.99 332,61.98 332.57,62.93 333.12,63.86 333.67,64.77 334.21,65.67 334.74,66.55 335.27,67.43 335.8,68.3 336.34,69.19 336.9,70.09 337.46,71 338.03,71.91 338.59,72.81 339.13,73.67 339.65,74.5 340.14,75.27 340.58,75.98 340.98,76.61 341.32,77.16 341.6,77.6" fill="none" stroke="#5898cf" stroke-width="0.8" stroke-linejoin="round" />
<circle cx="257.4" cy="19.6" r="1.75" fill="#f8766d"/>
<circle cx="270.4" cy="19.1" r="1.75" fill="#f8766d"/>
<circle cx="279" cy="25.4" r="1.75" fill="#f8766d"/>
<circle cx="285.3" cy="22.6" r="1.75" fill="#f8766d"/>
<circle cx="293.2" cy="27.3" r="1.75" fill="#f8766d"/>
<circle cx="298.7" cy="21.9" r="1.75" fill="#f8766d"/>
<circle cx="300.6" cy="32.4" r="1.75" fill="#f8766d"/>
<circle cx="302.2" cy="33.5" r="1.75" fill="#f8766d"/>
<circle cx="307.1" cy="46.3" r="1.75" fill="#f8766d"/>
<circle cx="313.1" cy="59.5" r="1.75" fill="#f8766d"/>
<circle cx="332.6" cy="86.4" r="1.75" fill="#f8766d"/>
<circle cx="341.2" cy="91.5" r="1.75" fill="#f8766d"/>
<circle cx="257.4" cy="91.1" r="1.75" fill="#5898cf"/>
<circle cx="270.4" cy="85.7" r="1.75" fill="#5898cf"/>
<circle cx="279" cy="79.9" r="1.75" fill="#5898cf"/>
<circle cx="285.3" cy="69" r="1.75" fill="#5898cf"/>
<circle cx="293.2" cy="49.8" r="1.75" fill="#5898cf"/>
<circle cx="298.3" cy="16.8" r="1.75" fill="#5898cf"/>
<circle cx="302.2" cy="20.1" r="1.75" fill="#5898cf"/>
<circle cx="300.6" cy="27.3" r="1.75" fill="#5898cf"/>
<circle cx="307.3" cy="23.1" r="1.75" fill="#5898cf"/>
<circle cx="313.1" cy="28.2" r="1.75" fill="#5898cf"/>
<circle cx="332.6" cy="64.8" r="1.75" fill="#5898cf"/>
<circle cx="341.2" cy="77.1" r="1.75" fill="#5898cf"/>
<line x1="248.5" y1="140.5" x2="349.4" y2="140.5" stroke="#8c8c8c" stroke-width="0.9" />
<line x1="248.5" y1="229.4" x2="349.4" y2="229.4" stroke="#8c8c8c" stroke-width="0.9" />
<line x1="248.5" y1="140.5" x2="248.5" y2="229.4" stroke="#8c8c8c" stroke-width="0.9" />
<line x1="349.4" y1="140.5" x2="349.4" y2="229.4" stroke="#8c8c8c" stroke-width="0.9" />
<line x1="248.5" y1="229.4" x2="248.5" y2="232.2" stroke="#8c8c8c" stroke-width="0.8" />
<line x1="246.1" y1="146.86" x2="248.5" y2="146.86" stroke="#8c8c8c" stroke-width="0.8" />
<text x="242.5" y="149.36" font-size="7.0" text-anchor="end" fill="#231f20"  stroke="#231f20" stroke-width="0.22">0.4</text>
<line x1="246.1" y1="172.3" x2="248.5" y2="172.3" stroke="#8c8c8c" stroke-width="0.8" />
<text x="242.5" y="174.8" font-size="7.0" text-anchor="end" fill="#231f20"  stroke="#231f20" stroke-width="0.22">0</text>
<line x1="246.1" y1="197.74" x2="248.5" y2="197.74" stroke="#8c8c8c" stroke-width="0.8" />
<text x="242.5" y="200.24" font-size="7.0" text-anchor="end" fill="#231f20"  stroke="#231f20" stroke-width="0.22"><tspan font-size="8.4">–</tspan>0.4</text>
<line x1="246.1" y1="223.18" x2="248.5" y2="223.18" stroke="#8c8c8c" stroke-width="0.8" />
<text x="242.5" y="225.68" font-size="7.0" text-anchor="end" fill="#231f20"  stroke="#231f20" stroke-width="0.22"><tspan font-size="8.4">–</tspan>0.8</text>
<line x1="282.13" y1="229.4" x2="282.13" y2="232.2" stroke="#8c8c8c" stroke-width="0.8" />
<text x="282.13" y="241.3" font-size="7.0" text-anchor="middle" fill="#231f20"  stroke="#231f20" stroke-width="0.22">20</text>
<line x1="315.77" y1="229.4" x2="315.77" y2="232.2" stroke="#8c8c8c" stroke-width="0.8" />
<text x="315.77" y="241.3" font-size="7.0" text-anchor="middle" fill="#231f20"  stroke="#231f20" stroke-width="0.22">40</text>
<line x1="349.4" y1="229.4" x2="349.4" y2="232.2" stroke="#8c8c8c" stroke-width="0.8" />
<text x="349.4" y="241.3" font-size="7.0" text-anchor="middle" fill="#231f20"  stroke="#231f20" stroke-width="0.22">60</text>
<text x="248.5" y="241.3" font-size="7.0" text-anchor="middle" fill="#231f20"  stroke="#231f20" stroke-width="0.22">0</text>
<text x="298.5" y="252" font-size="7.2" text-anchor="middle" fill="#231f20"  stroke="#231f20" stroke-width="0.22">Time (s)</text>
<text x="221.6" y="184.5" font-size="7.2" text-anchor="middle" fill="#231f20" transform="rotate(-90 221.6 184.5)" stroke="#231f20" stroke-width="0.22"><tspan font-style="italic">V</tspan><tspan font-size="5" dy="1.4">oc</tspan><tspan dy="-1.4"> (V)</tspan></text>
<line x1="248.5" y1="172.4" x2="265" y2="172.4" stroke="#f8766d" stroke-width="0.7" />
<line x1="337" y1="172.4" x2="349.4" y2="172.4" stroke="#f8766d" stroke-width="0.7" />
<path d="M264.2,167.15 L264.55,168.1 L264.9,166.64 L265.25,168.87 L265.6,165.51 L265.95,166.86 L266.3,165.76 L266.65,165.2 L267,166.53 L267.35,166.79 L267.7,164.26 L268.05,163.88 L268.4,163.69 L268.75,164.6 L269.1,163.89 L269.45,163.92 L269.8,165.24 L270.15,166.35 L270.5,163.2 L270.85,163.27 L271.2,164.07 L271.55,163.2 L271.9,163.68 L272.25,163.22 L272.6,164.81 L272.95,163.2 L273.3,164.58 L273.65,161.84 L274,163.9 L274.35,162.82 L274.7,161.23 L275.05,161.96 L275.4,161.01 L275.75,163.78 L276.1,163.22 L276.45,161.51 L276.8,161.43 L277.15,160.97 L277.5,160.95 L277.85,160.81 L278.2,163.77 L278.55,166.2 L278.9,160.61 L279.25,160.66 L279.6,160.81 L279.95,160.95 L280.3,163.28 L280.65,161.7 L281,161.32 L281.35,161.91 L281.7,161.31 L282.05,162 L282.4,161.65 L282.75,162.14 L283.1,159.88 L283.45,161.65 L283.8,159.9 L284.15,161.44 L284.5,161.77 L284.85,159.9 L285.2,160.76 L285.55,160.16 L285.9,160.23 L286.25,160.1 L286.6,161.4 L286.95,159.58 L287.3,160.76 L287.65,160.5 L288,161.07 L288.35,160.1 L288.7,159.68 L289.05,162.01 L289.4,160.08 L289.75,160.06 L290.1,160.34 L290.45,159.93 L290.8,160.34 L291.15,160.58 L291.5,160.33 L291.85,160.95 L292.2,161.07 L292.55,159.9 L292.9,160.81 L293.25,160.86 L293.6,160.33 L293.95,160.63 L294.3,160.34 L294.65,160.76 L295,160.2 L295.35,160.82 L295.7,161.32 L296.05,160.71 L296.4,163.74 L296.75,163.35 L297.1,163.52 L297.45,160.96 L297.8,160.04 L298.15,160.98 L298.5,160.34 L298.85,160.08 L299.2,161.19 L299.55,160.39 L299.9,162.36 L300.25,163.49 L300.6,162.3 L300.95,163.37 L301.3,161.5 L301.65,162.01 L302,164.37 L302.35,162.37 L302.7,161.44 L303.05,164.29 L303.4,162.29 L303.75,164.68 L304.1,163.28 L304.45,164.63 L304.8,162.31 L305.15,164.56 L305.5,163.71 L305.85,162.87 L306.2,164.38 L306.55,162.94 L306.9,163.84 L307.25,163.63 L307.6,166.44 L307.95,165.1 L308.3,164.06 L308.65,164.87 L309,164.8 L309.35,164.02 L309.7,164.95 L310.05,163.83 L310.4,164.38 L310.75,165.02 L311.1,163.82 L311.45,164.21 L311.8,164.9 L312.15,165.99 L312.5,165.66 L312.85,164.66 L313.2,165.9 L313.55,165.02 L313.9,166.44 L314.25,164.93 L314.6,165.77 L314.95,163.64 L315.3,165.6 L315.65,165.25 L316,164.13 L316.35,163.71 L316.7,165.2 L317.05,164.39 L317.4,163.57 L317.75,164.11 L318.1,164.23 L318.45,166.54 L318.8,165.73 L319.15,164.91 L319.5,165.51 L319.85,163.63 L320.2,163.71 L320.55,163.67 L320.9,163.52 L321.25,164.81 L321.6,166.26 L321.95,163.55 L322.3,163.5 L322.65,163.54 L323,164.58 L323.35,164.48 L323.7,165.13 L324.05,165.13 L324.4,163.52 L324.75,164.48 L325.1,164.39 L325.45,165.78 L325.8,164.23 L326.15,165.69 L326.5,165.17 L326.85,165.89 L327.2,163.99 L327.55,164.17 L327.9,163.96 L328.25,164.93 L328.6,164.21 L328.95,166.18 L329.3,164.59 L329.65,163.57 L330,165.06 L330.35,164.21 L330.7,164.71 L331.05,166.55 L331.4,165.65 L331.75,166.47 L332.1,164.39 L332.45,166.04 L332.8,164.5 L333.15,163.99 L333.5,164.88 L333.85,164.17 L334.2,165.93 L334.55,165 L334.9,164.91 L335.25,165.59 L335.6,166.96 L335.95,165.08 L336.3,165.98 L336.65,165.81 L337,168.64 L337.35,166.89 L337.7,168.99 L337.7,180.01 L337.35,180.3 L337,180.67 L336.65,182.24 L336.3,181.95 L335.95,180.87 L335.6,181.87 L335.25,182.69 L334.9,184.32 L334.55,184.99 L334.2,182.8 L333.85,184.33 L333.5,187.1 L333.15,183.76 L332.8,186.85 L332.45,188.03 L332.1,186.7 L331.75,188.14 L331.4,188.68 L331.05,185.31 L330.7,186.9 L330.35,188.25 L330,189.6 L329.65,189.67 L329.3,189.58 L328.95,188.8 L328.6,188.24 L328.25,187.16 L327.9,189.94 L327.55,189.02 L327.2,189.9 L326.85,190.2 L326.5,190.16 L326.15,189.65 L325.8,190.64 L325.45,190.98 L325.1,189.53 L324.75,188.77 L324.4,190.35 L324.05,191.05 L323.7,190.42 L323.35,190.04 L323,190.23 L322.65,189.85 L322.3,189.26 L321.95,190.5 L321.6,190.36 L321.25,191.03 L320.9,187.86 L320.55,190.88 L320.2,189.75 L319.85,191.26 L319.5,191.09 L319.15,189.04 L318.8,189.64 L318.45,191.34 L318.1,191.14 L317.75,191.46 L317.4,191.41 L317.05,191.89 L316.7,190.66 L316.35,189.92 L316,189.71 L315.65,189.18 L315.3,190.01 L314.95,190.31 L314.6,190.42 L314.25,191.54 L313.9,190.7 L313.55,191.47 L313.2,191.68 L312.85,191.97 L312.5,191.11 L312.15,192.26 L311.8,191.71 L311.45,190.26 L311.1,190.88 L310.75,190.88 L310.4,191.98 L310.05,190.97 L309.7,191.15 L309.35,191.33 L309,191.97 L308.65,190.98 L308.3,191.65 L307.95,192.04 L307.6,192.6 L307.25,192.76 L306.9,192.99 L306.55,193.27 L306.2,192.61 L305.85,191.59 L305.5,193.23 L305.15,191.41 L304.8,193.62 L304.45,192.52 L304.1,191.48 L303.75,193.43 L303.4,193.3 L303.05,193.84 L302.7,191.14 L302.35,193.47 L302,192.55 L301.65,192.92 L301.3,193.48 L300.95,194.54 L300.6,193.61 L300.25,193.37 L299.9,193.6 L299.55,194.54 L299.2,194.29 L298.85,194.38 L298.5,193.55 L298.15,193.31 L297.8,191.91 L297.45,194.45 L297.1,193.37 L296.75,191.71 L296.4,194.82 L296.05,194.48 L295.7,194.12 L295.35,193.54 L295,193.68 L294.65,193.93 L294.3,193.5 L293.95,192.73 L293.6,193.69 L293.25,192 L292.9,194.67 L292.55,194.05 L292.2,193.68 L291.85,192.85 L291.5,194.06 L291.15,193.34 L290.8,193.52 L290.45,194.11 L290.1,193.22 L289.75,193.68 L289.4,193.73 L289.05,193.68 L288.7,194.4 L288.35,193.29 L288,193.18 L287.65,193.71 L287.3,193.97 L286.95,192.97 L286.6,191.05 L286.25,194.65 L285.9,192.19 L285.55,193.36 L285.2,193.42 L284.85,194.28 L284.5,194.41 L284.15,193.61 L283.8,194.6 L283.45,194.4 L283.1,193.31 L282.75,193.58 L282.4,193.95 L282.05,193.83 L281.7,192.94 L281.35,194.15 L281,193.68 L280.65,190.89 L280.3,193.76 L279.95,194 L279.6,193.04 L279.25,194.35 L278.9,193.98 L278.55,194.37 L278.2,191.51 L277.85,193.15 L277.5,194.23 L277.15,194.2 L276.8,191.9 L276.45,194.04 L276.1,193.01 L275.75,190.67 L275.4,193.94 L275.05,192.68 L274.7,193.3 L274.35,193.05 L274,190.89 L273.65,193.08 L273.3,189.92 L272.95,190.27 L272.6,191.72 L272.25,191.61 L271.9,193.1 L271.55,192.05 L271.2,192.5 L270.85,191.88 L270.5,192.07 L270.15,191.14 L269.8,190.51 L269.45,188.61 L269.1,188.75 L268.75,190.47 L268.4,191.29 L268.05,189.38 L267.7,190.57 L267.35,190.21 L267,187.69 L266.65,188.91 L266.3,187.56 L265.95,188.58 L265.6,186.97 L265.25,186.4 L264.9,184.35 L264.55,181.3 L264.2,179Z" fill="#f8766d" stroke="none"/>
<path d="M265.99,185.68V190.51 M296.25,191.93V197.92 M280.31,191.61V198.57 M332.85,185.09V190.32 M303.88,191.03V194.6 M284.87,191.7V199.62 M273.43,190.83V203.65 M329.57,187.06V190.52 M331.86,185.68V190.79 M319.96,188.67V198.04 M286.34,191.73V199.8 M311.61,189.37V199.75 M284.22,191.68V201 M333.27,184.64V192.66 M303.3,191.18V194.72 M300.32,191.92V196.87 M316.13,188.99V197.1 M305.43,190.64V194.55 M311.02,189.42V196.9 M278.13,191.56V204.49 M311.7,189.36V192.95 M331.2,186.08V189.77 M288.87,191.78V200.51 M307.62,190.1V196.74 M311.15,189.4V195.16 M287.53,191.75V195.62 M270.34,189.5V198.16 M318.69,188.78V195.3 M317.64,188.86V193.87 M284.24,191.68V196.86 M327.01,188.08V191.28 M301.08,191.73V196.01 M319.71,188.69V193.66 M288.97,191.78V197.1 M303.68,191.08V200.73 M290.38,191.81V203.25 M273.41,190.82V195.24 M272.53,190.44V193.98 M320.42,188.63V197.48 M278.53,191.57V195.51 M294.87,191.9V201.02 M323.01,188.42V197.63 M307.23,190.19V193.91 M293.59,191.87V195.84 M302.7,191.33V198.11 M279.75,191.59V195.89 M320.61,188.62V191.75 M322.12,188.49V201.47 M332.43,185.34V190.52 M304.46,190.89V197.82 M310.17,189.49V209.46 M313.91,189.17V193.78 M326.13,188.16V194.13 M307.9,190.03V198.87 M265.67,185.23V194.86 M312.17,189.32V195.37 M302.42,191.4V197.17 M279.14,191.58V197.98 M268.11,188.55V194.67 M311.04,189.41V195.06 M305.4,190.65V208.03 M328.39,187.77V191.42 M321.36,188.55V195.95 M269.07,188.96V193.97 M281.96,191.64V195 M303.49,191.13V206.08 M288.28,191.77V203.96 M314.47,189.13V192.78 M326.01,188.17V195.3 M330.85,186.29V194.95 M317.65,188.86V193.76 M322.37,188.47V203.55 M326.23,188.15V193.73 M318.86,188.76V194.75 M273.19,190.73V193.92 M270.99,189.78V193.79 M276.84,191.54V197.63 M314.8,189.1V195.57 M295.26,191.91V199.62 M286.98,191.74V197.55 M318.88,188.76V194.07 M278.23,191.56V204.9 M316.24,188.98V194.04 M291.65,191.83V198.22 M307.55,190.11V194.25 M265.69,185.27V189.32 M320.71,188.61V192.3 M297.93,191.96V195.94 M280.25,191.61V195.45 M293.96,191.88V195.71 M267.44,187.71V191.24 M277.36,191.55V197.58 M269.71,189.23V192.33 M297.09,191.94V197.3 M315.09,189.08V192.31 M293.93,191.88V197.15 M267.38,187.63V205.79 M280.93,191.62V195.06 M298.96,191.98V195.79 M309.38,189.65V194.57 M274.24,191.17V194.41 M316.8,188.93V193.38 M321.04,188.58V194.4 M331.27,186.04V190.65 M283.12,191.66V196.05 M322.93,188.42V195.89 M289.8,191.8V195.24 M313.61,189.2V207.87 M307.25,190.19V193.2 M267.64,187.99V191.42 M277.51,191.55V194.72 M269.3,189.06V196.84 M328.97,187.42V191.43 M334.16,183.46V189.37 M322.15,188.49V202.71 M331.78,185.73V188.89 M286.98,191.74V198.94 M332.23,185.46V188.87 M286.19,191.72V203.26 M273.58,190.89V196.12 M289.06,191.78V199.91 M330.96,186.22V190.09 M317.66,188.86V197.82 M324.41,188.3V194.93 M330.61,186.44V191.46 M294.74,191.89V196.07 M320.45,188.63V194.58 M284.5,191.69V195.53 M316.3,188.97V196.16 M315.6,189.03V194.23 M299.84,192V195.75 M315.6,189.03V192.14 M298.42,191.97V201.36 M313.25,189.23V192.69 M282.22,191.64V203 M310.79,189.43V201.92 M326.99,188.08V193.77 M328.73,187.56V196.5 M289.03,191.78V196.86 M270.58,189.61V194.9 M332.88,185.07V188.57 M305.61,190.6V194.12 M271.2,189.87V197.59 M282.47,191.65V194.87 M276.26,191.53V199.18 M306.78,190.3V193.36 M281.71,191.63V210.02 M281.02,191.62V198.34 M295.08,191.9V201.74 M308.11,189.97V199.97 M303.23,191.19V195.13 M278.02,191.56V194.93 M323.7,188.36V191.9 M267.19,187.37V205.64 M279.55,191.59V204.66 M271.55,190.02V195.84 M281.2,191.62V202.58 M308.89,189.78V197.4 M319.18,188.74V200.98 M289.9,191.8V198.96 M296.91,191.94V195.47 M324.39,188.3V195.36 M322.94,188.42V192.46 M303.51,191.12V196.93 M316.82,188.93V192.29 M289.9,191.8V197.78 M270.54,189.59V196.21 M317.34,188.89V194.36 M311.21,189.4V196.59 M280.6,191.61V196.55 M335.7,181.4V186.24 M295.87,191.92V195.31 M280.86,191.62V195.43 M331.13,186.12V194.95 M327.17,188.07V210.07 M308.66,189.84V204.89 M303.27,191.18V196.62 M332.34,185.4V198.9 M332.45,185.33V191.31 M320.03,188.66V194.02 M335.81,181.25V195.64 M286.09,191.72V206.97 M278.51,191.57V195.02 M316.43,188.96V193.53 M302.12,191.47V199.06 M268.36,188.65V197.81 M284.96,191.7V197.25 M289.81,191.8V200.89 M318.15,188.82V193.35 M272.79,190.55V195.15 M294.48,191.89V195.25 M276.3,191.53V201 M314.88,189.09V208.95 M334.57,182.91V195.31 M291.77,191.84V195.63 M287.49,191.75V197.55 M302.58,191.36V197.87 M290.86,191.82V203.44 M285.61,191.71V197.51 M328.02,187.99V198.39 M286.47,191.73V195.98 M322.37,188.47V191.51 M274.77,191.4V197.81 M303.28,191.18V195 M269.04,188.95V192.97 M319.78,188.68V194.51 M334.54,182.95V192.88 M334.54,182.95V186.11 M278.55,191.57V194.63 M295.98,191.92V196.78 M269.11,188.98V195.53 M272.11,190.26V194.94 M282.93,191.66V201.95 M294.98,191.9V196.26 M268.6,188.76V194.28 M309.74,189.57V197.63 M329.83,186.9V197.34 M282.94,191.66V195.31 M318.96,188.75V198.77 M301.37,191.66V202.66 M304.41,190.9V195.37 M277.4,191.55V194.63 M310.84,189.43V202.66 M329.38,187.17V193.01 M312.42,189.3V204.18 M322.89,188.43V195.58 M294.72,191.89V198.18 M277.54,191.55V195.46 M313.71,189.19V211.19 M304.07,190.98V196.34 M290.31,191.81V197.54 M322.11,188.49V194.2 M333.13,184.83V188.59 M287.7,191.75V198.08 M294.54,191.89V203.46 M323.85,188.35V203.4 M308.68,189.83V192.97 M306,190.5V197.09 M299.87,192V196.47 M315.51,189.04V202.96 M272.72,190.52V198.5 M291.68,191.83V198.09 M328.65,187.61V205.13 M310.87,189.43V193.4 M330.41,186.55V190.45 M292.52,191.85V202.78 M287.79,191.76V196.18 M332.47,185.32V201.27 M287.88,191.76V197 M285.38,191.71V195.34 M283.14,191.66V212.31 M271.09,189.82V194 M279.6,191.59V194.96 M302.6,191.35V200.46 M324.6,188.28V195.77 M323.16,188.4V191.43 M285.39,191.71V209.33 M270.39,189.52V193.93 M299.54,191.99V196.39 M304,191V194.22 M281.99,162.93V152.91 M275.38,163.89V154.42 M277.81,163.54V153.12 M313.57,166.5V159.6 M275.24,163.91V160.81 M319.68,166.5V162.95 M278.65,163.42V154.82 M327.99,166.5V163.42 M334.18,167.09V161.16 M292.53,162.77V159.51 M293.07,162.79V152.43 M285.22,162.51V159.15 M275.46,163.88V160.54 M290.37,162.69V153.13 M270.54,165.66V162.03 M332.63,166.5V156.03 M335.55,167.78V163.86 M290.51,162.7V152.74 M299.93,163.35V155.92 M287.56,162.59V159.57 M289.87,162.67V154.82 M321.3,166.5V160.28 M298.41,162.98V157.02 M296.84,162.92V156.99 M324.97,166.5V162.83 M307.79,166.42V156.66 M326.08,166.5V162.93 M334.37,167.18V158.41 M277.09,163.64V159.61 M279.57,163.28V160.19 M335.44,167.72V162.76 M327.83,166.5V163.21 M266,168V158.91 M322.17,166.5V156.09 M314.35,166.5V160.65 M320.15,166.5V163.29 M303.91,164.86V159.67 M275.54,163.86V157.38 M288.27,162.62V156.91 M291.89,162.75V158.4 M290.81,162.71V156.21 M335.6,167.8V158 M327.08,166.5V157.78 M285.65,162.52V152.28 M284.42,162.58V159.26 M301.06,163.77V156.07 M289.55,162.66V155.78 M285.33,162.51V152.38 M297.61,162.95V157.47 M303.26,164.61V155.47 M336.03,168.03V162.15 M296.79,162.92V156.28 M269.99,165.89V160.81 M326.02,166.5V158.36 M269.27,166.18V157.26 M292.65,162.77V152.48 M291.4,162.73V158.98 M304.51,165.1V155.87 M296.04,162.89V153.83 M316.22,166.5V161.87 M286.64,162.56V156.86 M293.73,162.81V158.11 M311.92,166.5V157.36 M307.08,166.13V162.71 M280.83,163.1V158.41 M309.26,166.5V163.11 M270.87,165.53V161.17 M285.37,162.51V159.48 M303.79,164.82V155.18 M303.47,164.69V156.94 M324.65,166.5V157.75 M330.74,166.5V161.3 M314.14,166.5V163.19 M328.36,166.5V161.76 M299.23,163.08V153.78 M285.65,162.52V158.9 M324.3,166.5V160.02 M271.11,165.43V162.4 M290.29,162.69V159.68 M324.93,166.5V162.91 M284.74,162.54V157.72 M301.84,164.07V158.93 M310.26,166.5V159.48 M296.41,162.91V159.68 M335.5,167.75V160.44 M271.02,165.47V160.27 M319.26,166.5V156.09 M269.75,165.99V162.98 M299.56,163.21V158.15 M329.4,166.5V157.86 M288.87,162.64V157.61 M306.97,166.09V156.85 M279.54,163.29V158.45 M271.37,165.32V158.47 M266.91,167.45V157.67 M302.71,164.39V158.13 M271.14,165.42V161.58 M298.75,162.99V154.04 M303.81,164.82V160.69 M335.71,167.85V160.82 M303.04,164.52V160.83 M286.5,162.55V153.15 M274.57,164.01V158.11 M309.64,166.5V161.91 M320.35,166.5V156.99 M326.74,166.5V158.75 M279.66,163.27V160.16 M296.16,162.9V158.59 M278.96,163.37V154.27 M280.56,163.14V154.54 M332.51,166.5V163.19 M330.78,166.5V161.62 M280.26,163.18V159.58 M267.72,166.97V161.33 M292.67,162.77V153.88 M324.98,166.5V163.4 M293.89,162.82V158 M277.79,163.54V159.6 M283.96,162.65V155.31 M289.49,162.66V159.38 M280.87,163.1V157.89 M305.67,165.57V161.66 M315.37,166.5V162.75 M313.3,166.5V159.93 M277.65,163.56V155.68 M293.38,162.8V156.83 M308.04,166.5V159.77 M296.85,162.92V159.82 M321.64,166.5V157.52 M300.29,163.48V157.18 M284.33,162.6V153.21 M314.37,166.5V162.72 M323.86,166.5V156.16 M289.91,162.68V152.23 M299.79,163.29V159.73 M316.62,166.5V162.02 M317.73,166.5V160.16 M272.75,164.76V158.88 M326.26,166.5V161.02 M303.83,164.83V155.82 M297.16,162.93V157.34 M306.96,166.08V157.48 M279.62,163.28V160.06 M319.81,166.5V160.42 M286.8,162.56V153.24 M328.69,166.5V160.51 M336.17,168.19V159.45 M318.86,166.5V162.32 M265.78,168.25V161.05 M317.93,166.5V161.94 M299.47,163.18V156.97 M282.99,162.79V155.42 M305.5,165.5V160.7 M272.89,164.7V158.61 M288.02,162.61V154.98 M277.42,163.59V158.74 M279.13,163.35V158.39 M306.5,165.9V162.64 M268.95,166.32V160.81 M279.51,163.29V157.6 M277.04,163.65V160.41 M303.7,164.78V155.13 M327.53,166.5V160.72 M293.61,162.81V159.68 M284.9,162.51V158.19 M332.79,166.5V163.2 M333.25,166.63V161.16 M296.25,162.9V158.89 M334.3,167.15V163.55 M306.14,165.75V160.02 M279.36,163.31V159.52 M335.95,167.98V159.7 M317.81,166.5V157.07 M272.1,165.03V157.6 M319.04,166.5V162.7 M297.91,162.96V152.75 M288.53,162.63V154.63 M276.9,163.67V156.58 M284.4,162.59V156.86 M291.81,162.74V153.65 M318.63,166.5V160.82 M314.48,166.5V161.4 M322.91,166.5V162.52 M304.18,164.97V158.61 M292.94,162.78V159.71 M277.24,163.62V156.78 M280.22,163.19V155.24 M301.35,163.88V153.9 M326.04,166.5V158.85 M291.82,162.74V159.68 M305.08,165.33V157.5 M331.32,166.5V162.82 M276.41,163.74V153.46 M318.24,166.5V160.97 M318.17,166.5V163.07 M304.17,164.97V157.87 M308.47,166.5V163.01 M274.85,163.96V157.26 M328.67,166.5V163.12 M265.51,168.54V165.36 M321.54,166.5V161.67 M297.82,162.96V152.52 M309,166.5V162.49 M315.47,166.5V163.5 M285.27,162.51V155.13 M277.3,163.61V160.57 M302.31,164.24V159.83 M334.93,167.46V164.22 M322.76,166.5V161.68 M322.99,166.5V161.27 M313.05,166.5V162.1 M281.17,163.05V157.77 M322.61,166.5V161.98 M281.55,163V157.99 M271.9,165.1V160.77 M306.24,165.8V159.78 M308.02,166.5V162.33 M266.79,167.53V164.5 M289.41,162.66V159 M305.97,165.69V161.66 M319.86,166.5V160 M312.69,166.5V158.77 M302.56,164.33V159.24 M287.21,162.58V159.46 M322.2,166.5V160.85 M272.18,164.99V155.3 M306.9,166.06V159.37 M296.58,162.91V159.58 M336.97,169.07V165.56 M291.37,162.73V152.23 M273.79,164.33V158.68 M299.54,163.2V159.28 M331.57,166.5V161.5 M265.83,168.18V162.74 M265.34,168.73V161.26 M327.57,166.5V157.04 M268.45,166.53V159.37 M286.94,162.57V157.13 M286.63,162.56V158.29 M274.56,164.02V157.31 M271.38,165.32V155.22 M268.16,166.71V156.61 M278.79,163.4V160.21 M318.63,166.5V160.6 M320.36,166.5V160.78 M310.4,166.5V163.32 M313.52,166.5V160.75 M334.28,167.14V164.14 M269.92,165.92V158.75 M331.68,166.5V161.45 M316.19,166.5V160.35 M293.14,162.79V157.41 M308.32,166.5V163.46 M287,162.57V154.82 M283.58,162.7V157.26 M283.48,162.72V158.11 M311.84,166.5V158.69 M333.89,166.95V161.48 M279.6,163.28V158.81 M269.21,166.21V162.33 M307.09,166.13V159.55 M282.39,162.88V159.3 M272.06,165.04V161.47 M301.1,163.79V159.82 M328.63,166.5V160.32 M289.49,162.66V157.54 M267.88,166.87V159.17 M319.08,166.5V161.86 M317.24,166.5V162.43 M280.8,163.11V159.29 M279.16,163.34V156.81 M311.23,166.5V158.84 M272.47,164.87V156.84 M299.44,163.16V158.42 M301.22,163.83V158.7 M279.41,163.31V158.44 M311.52,166.5V158.96 M330.88,166.5V162.86 M329.15,166.5V158.13 M316.33,166.5V156.23 M274.93,163.95V155.82 M329.76,166.5V163.18 M307.82,166.43V156.51 M286.1,162.54V153.61 M330.25,166.5V161.35 M275.45,163.88V160.13 M324.75,166.5V161.44 M287.73,162.6V157.39 M331.83,166.5V162.54 M266.32,167.81V157.87 M287.82,162.6V157.81 M335.26,167.63V163.51 M271.17,165.4V156.13 M282.56,162.85V159.07 M332.51,166.5V162.68 M329.88,166.5V162.06 M286.83,162.57V158.81 M304.05,164.92V158.77 M293.68,162.81V157.1 M286.46,162.55V153.8 M332.24,166.5V158.6 M324.02,166.5V163.36 M283.03,162.78V159.1 M276.15,163.78V153.63 M330.18,166.5V156.94 M305.16,165.37V162.07 M295.75,162.88V159.78 M330.13,166.5V162.47 M285.75,162.53V152.63 M279.44,163.3V153.66 M287.4,162.59V155.52 M272.68,164.79V155.4 M293.7,162.81V158.29 M312.11,166.5V160.07 M283.07,162.78V159.45 M306.43,165.87V162.84 M327.75,166.5V161.99 M277.21,163.62V159.22 M273.19,164.58V160.24 M304.11,164.94V160" stroke="#f8766d" stroke-width="0.45" stroke-opacity="0.75" fill="none"/>
<line x1="334.3" y1="152.7" x2="334.3" y2="227.1" stroke="#f8766d" stroke-width="0.6" />
<line x1="296.6" y1="151.8" x2="296.6" y2="158" stroke="#f8766d" stroke-width="0.5" />
<line x1="283.5" y1="195" x2="283.5" y2="214.5" stroke="#f8766d" stroke-width="0.5" />
<line x1="294" y1="195" x2="294" y2="213" stroke="#f8766d" stroke-width="0.5" />
<line x1="304.4" y1="192" x2="304.4" y2="204.2" stroke="#f8766d" stroke-width="0.5" />
<line x1="248.5" y1="269.6" x2="349.4" y2="269.6" stroke="#8c8c8c" stroke-width="0.9" />
<line x1="248.5" y1="360.2" x2="349.4" y2="360.2" stroke="#8c8c8c" stroke-width="0.9" />
<line x1="248.5" y1="269.6" x2="248.5" y2="360.2" stroke="#8c8c8c" stroke-width="0.9" />
<line x1="349.4" y1="269.6" x2="349.4" y2="360.2" stroke="#8c8c8c" stroke-width="0.9" />
<line x1="248.5" y1="360.2" x2="248.5" y2="363" stroke="#8c8c8c" stroke-width="0.8" />
<line x1="246.1" y1="277.4" x2="248.5" y2="277.4" stroke="#8c8c8c" stroke-width="0.8" />
<text x="242.5" y="279.9" font-size="7.0" text-anchor="end" fill="#231f20"  stroke="#231f20" stroke-width="0.22">15</text>
<line x1="246.1" y1="294.5" x2="248.5" y2="294.5" stroke="#8c8c8c" stroke-width="0.8" />
<text x="242.5" y="297" font-size="7.0" text-anchor="end" fill="#231f20"  stroke="#231f20" stroke-width="0.22">10</text>
<line x1="246.1" y1="311.6" x2="248.5" y2="311.6" stroke="#8c8c8c" stroke-width="0.8" />
<text x="242.5" y="314.1" font-size="7.0" text-anchor="end" fill="#231f20"  stroke="#231f20" stroke-width="0.22">5</text>
<line x1="246.1" y1="328.7" x2="248.5" y2="328.7" stroke="#8c8c8c" stroke-width="0.8" />
<text x="242.5" y="331.2" font-size="7.0" text-anchor="end" fill="#231f20"  stroke="#231f20" stroke-width="0.22">0</text>
<line x1="246.1" y1="345.8" x2="248.5" y2="345.8" stroke="#8c8c8c" stroke-width="0.8" />
<text x="242.5" y="348.3" font-size="7.0" text-anchor="end" fill="#231f20"  stroke="#231f20" stroke-width="0.22"><tspan font-size="8.4">–</tspan>5</text>
<line x1="282.13" y1="360.2" x2="282.13" y2="363" stroke="#8c8c8c" stroke-width="0.8" />
<text x="282.13" y="371.9" font-size="7.0" text-anchor="middle" fill="#231f20"  stroke="#231f20" stroke-width="0.22">20</text>
<line x1="315.77" y1="360.2" x2="315.77" y2="363" stroke="#8c8c8c" stroke-width="0.8" />
<text x="315.77" y="371.9" font-size="7.0" text-anchor="middle" fill="#231f20"  stroke="#231f20" stroke-width="0.22">40</text>
<line x1="349.4" y1="360.2" x2="349.4" y2="363" stroke="#8c8c8c" stroke-width="0.8" />
<text x="349.4" y="371.9" font-size="7.0" text-anchor="middle" fill="#231f20"  stroke="#231f20" stroke-width="0.22">60</text>
<text x="248.5" y="371.9" font-size="7.0" text-anchor="middle" fill="#231f20"  stroke="#231f20" stroke-width="0.22">0</text>
<text x="298.2" y="386.3" font-size="7.2" text-anchor="middle" fill="#231f20"  stroke="#231f20" stroke-width="0.22">Time (s)</text>
<text x="220.8" y="314.9" font-size="7.2" text-anchor="middle" fill="#231f20" transform="rotate(-90 220.8 314.9)" stroke="#231f20" stroke-width="0.22"><tspan font-style="italic">I</tspan><tspan font-size="5" dy="1.4">sc</tspan><tspan dy="-1.4"> (mA)</tspan></text>
<line x1="248.5" y1="329.1" x2="271" y2="329.1" stroke="#5898cf" stroke-width="0.7" />
<line x1="330" y1="329.1" x2="349.4" y2="329.1" stroke="#5898cf" stroke-width="0.7" />
<path d="M270.4,305.64 L270.75,303.34 L271.1,302.87 L271.45,301.1 L271.8,300.03 L272.15,297.77 L272.5,300.29 L272.85,296.73 L273.2,299.04 L273.55,296.38 L273.9,294.26 L274.25,295.05 L274.6,294.77 L274.95,295.9 L275.3,295.89 L275.65,296.3 L276,295.86 L276.35,297.06 L276.7,297.08 L277.05,297.75 L277.4,298.94 L277.75,298.47 L278.1,298.01 L278.45,303.4 L278.8,299.12 L279.15,300.57 L279.5,303.47 L279.85,301.97 L280.2,304.14 L280.55,300.91 L280.9,302.22 L281.25,301.88 L281.6,303.24 L281.95,304.11 L282.3,304.6 L282.65,304.64 L283,305.85 L283.35,302.06 L283.7,304.04 L284.05,304.06 L284.4,301.99 L284.75,305.44 L285.1,302.77 L285.45,305.29 L285.8,303.65 L286.15,306.09 L286.5,303.16 L286.85,301.41 L287.2,304.12 L287.55,302.11 L287.9,301.44 L288.25,300.83 L288.6,302.07 L288.95,302.92 L289.3,302.41 L289.65,303.77 L290,303.45 L290.35,300.51 L290.7,303.79 L291.05,303.57 L291.4,302.53 L291.75,303.52 L292.1,301.7 L292.45,301.36 L292.8,301.56 L293.15,302.69 L293.5,303.31 L293.85,306.57 L294.2,302.75 L294.55,301.85 L294.9,302.8 L295.25,306.34 L295.6,304.21 L295.95,302.05 L296.3,301.78 L296.65,301.06 L297,306.08 L297.35,301.04 L297.7,299.86 L298.05,305.77 L298.4,301.12 L298.75,298.42 L299.1,300.04 L299.45,301.8 L299.8,298.05 L300.15,299.7 L300.5,299.62 L300.85,298.54 L301.2,297.2 L301.55,297.06 L301.9,298.61 L302.25,296.77 L302.6,299.1 L302.95,303.27 L303.3,298.63 L303.65,296.6 L304,296.76 L304.35,299.95 L304.7,297.6 L305.05,298.55 L305.4,299.01 L305.75,299.38 L306.1,295.56 L306.45,297.34 L306.8,297.51 L307.15,297.61 L307.5,299.93 L307.85,295.1 L308.2,295.72 L308.55,298.33 L308.9,297.28 L309.25,297.93 L309.6,296.02 L309.95,294.31 L310.3,297.5 L310.65,299.61 L311,298.43 L311.35,294.52 L311.7,293.68 L312.05,293.79 L312.4,293.67 L312.75,297.18 L313.1,295.06 L313.45,298 L313.8,298.15 L314.15,296.25 L314.5,293.58 L314.85,294.51 L315.2,297.36 L315.55,294 L315.9,292.95 L316.25,293.64 L316.6,296.16 L316.95,294.35 L317.3,291.64 L317.65,291.82 L318,295.11 L318.35,293.3 L318.7,293.04 L319.05,294.4 L319.4,293.31 L319.75,296.05 L320.1,291.58 L320.45,291.72 L320.8,295.42 L321.15,290.5 L321.5,291.65 L321.85,291.3 L322.2,292.89 L322.55,290.62 L322.9,291.66 L323.25,290.09 L323.6,294.13 L323.95,290.38 L324.3,291.46 L324.65,293.79 L325,290.4 L325.35,291.17 L325.7,289.55 L326.05,288.81 L326.4,291.18 L326.75,290.78 L327.1,290.59 L327.45,295.03 L327.8,289.87 L328.15,289.74 L328.5,292.31 L328.85,288.17 L329.2,292.77 L329.55,288.64 L329.9,291.05 L330.25,291.15 L330.6,288.28 L330.6,336.78 L330.25,336.2 L329.9,334.83 L329.55,336.16 L329.2,335.76 L328.85,336.37 L328.5,336.49 L328.15,336.42 L327.8,333.89 L327.45,335.63 L327.1,335.99 L326.75,336.88 L326.4,336.57 L326.05,336.77 L325.7,336.01 L325.35,336.89 L325,335.92 L324.65,336.86 L324.3,336.17 L323.95,334.09 L323.6,334.89 L323.25,336.44 L322.9,335.43 L322.55,334.5 L322.2,336.21 L321.85,336.61 L321.5,336.1 L321.15,336.45 L320.8,335.95 L320.45,336.67 L320.1,334.67 L319.75,336.61 L319.4,336.56 L319.05,336.86 L318.7,336.07 L318.35,336.32 L318,336.23 L317.65,335.59 L317.3,336.03 L316.95,336.05 L316.6,336.28 L316.25,335.71 L315.9,335.49 L315.55,335.8 L315.2,336.95 L314.85,336.72 L314.5,336.97 L314.15,336.98 L313.8,335.72 L313.45,335.7 L313.1,335.94 L312.75,335.07 L312.4,335.75 L312.05,335.41 L311.7,336 L311.35,336.27 L311,336.02 L310.65,336.54 L310.3,336.68 L309.95,336.85 L309.6,335.78 L309.25,336.78 L308.9,335.22 L308.55,335.78 L308.2,336.51 L307.85,336.28 L307.5,335.31 L307.15,336.79 L306.8,335.13 L306.45,335.09 L306.1,335.63 L305.75,335.87 L305.4,336.1 L305.05,335.24 L304.7,335.84 L304.35,335.19 L304,336.23 L303.65,336.15 L303.3,336.68 L302.95,335.62 L302.6,336.65 L302.25,335.16 L301.9,336.83 L301.55,336.77 L301.2,335.57 L300.85,335.21 L300.5,335.26 L300.15,333.78 L299.8,336.25 L299.45,336.58 L299.1,335.21 L298.75,335.86 L298.4,335.6 L298.05,336.42 L297.7,336.92 L297.35,336.88 L297,336.57 L296.65,336.37 L296.3,336.21 L295.95,336.71 L295.6,336.71 L295.25,333.92 L294.9,336.54 L294.55,335.89 L294.2,336.55 L293.85,336.61 L293.5,336.32 L293.15,337 L292.8,336.67 L292.45,336.31 L292.1,336.83 L291.75,335.97 L291.4,336.24 L291.05,335.48 L290.7,335.77 L290.35,336.64 L290,336.84 L289.65,336.47 L289.3,335.86 L288.95,336.97 L288.6,336.5 L288.25,335.63 L287.9,336.22 L287.55,336.82 L287.2,335.07 L286.85,335.78 L286.5,334.83 L286.15,336.24 L285.8,336.36 L285.45,335.46 L285.1,336.34 L284.75,336.26 L284.4,336.48 L284.05,336.81 L283.7,335.83 L283.35,336.12 L283,333.98 L282.65,336.31 L282.3,336.71 L281.95,334.56 L281.6,336.36 L281.25,335.48 L280.9,336.27 L280.55,335.44 L280.2,336.57 L279.85,335.86 L279.5,336.01 L279.15,336.93 L278.8,336.02 L278.45,336.61 L278.1,335.43 L277.75,335.21 L277.4,336.71 L277.05,335.53 L276.7,335.85 L276.35,336.7 L276,336.87 L275.65,336.11 L275.3,335.56 L274.95,334.94 L274.6,336.53 L274.25,336.23 L273.9,336.94 L273.55,336.44 L273.2,334.91 L272.85,336.4 L272.5,335.97 L272.15,336.78 L271.8,336.7 L271.45,336.49 L271.1,336.74 L270.75,336.62 L270.4,336.39Z" fill="#5898cf" stroke="none"/>
<path d="M311.95,296.61V291.67 M275.31,297.51V284.75 M308.75,297.5V288.84 M275.98,297.99V288.2 M274.96,297.26V287.31 M298,302V297.55 M303.91,299.22V287.07 M286.94,303.92V300.43 M302.35,299.53V295.58 M277.51,300.08V296.46 M274,296.57V292.78 M289.56,303.13V298.86 M316.19,295.29V291.09 M300.76,299.85V296.16 M291.65,303.66V300.59 M285.9,304.23V301.18 M314.62,296.08V290.27 M282.27,303.95V298.7 M326.61,291.58V288.19 M319.73,293.16V288.18 M300.45,299.91V290.61 M294.39,304.76V299.28 M311.92,296.62V283.62 M291.39,303.56V294.31 M313.05,296.39V289.85 M295.08,304.92V300.43 M274.24,296.74V293.25 M275.21,297.43V289.71 M286.21,304.14V300.51 M276.03,298.04V288.6 M322.8,292.44V285.55 M287.78,303.67V299.7 M288.44,303.47V298.32 M280.37,303.57V298.51 M286.66,304V291 M328.87,291V285.23 M285.54,304.34V291.34 M289.42,303.17V298.63 M271.06,303.78V299.09 M299.24,300.76V295.31 M282.96,304.09V298.63 M271.29,302.31V298.23 M276.34,298.47V293.68 M273.48,297.29V294.21 M289.1,303.27V299.34 M305.84,298.66V293.03 M315.66,295.61V288.86 M313.6,296.28V285.89 M294.18,304.67V300.29 M329.59,290.81V287.25 M314.09,296.18V289.58 M273.61,297.05V287.74 M324.07,292.19V285.73 M314.66,296.07V287.21 M279.29,302.52V296.93 M301.01,299.8V290.49 M318.88,293.67V284.54 M305.75,298.7V287.88 M311.63,296.67V289.54 M284.68,304.44V301.33 M278.92,302.01V297.45 M277.24,299.71V290.38 M304.23,299.15V292.69 M308.26,297.7V290.7 M300.11,299.98V296.97 M318.46,293.92V286.09 M300.93,299.81V294.13 M310.23,296.95V293.72 M314.84,296.03V292.02 M275.43,297.59V293.51 M314.4,296.12V292.32 M315.02,295.99V282.99 M300.39,299.92V295.23 M299.5,300.5V293.47 M316.63,295.02V288.66 M309.24,297.3V294.02 M279.77,303.19V299.16 M315.22,295.87V291.6 M304.78,299.04V296 M274.61,297.01V292.91 M310.98,296.8V289.68 M311.2,296.76V292.56 M301.73,299.65V294.47 M298.75,301.25V297.81 M324.17,292.17V288.39 M329.2,290.91V278.28 M272.04,299.98V294.83 M319.78,293.13V280.13 M297.74,302.26V298.16 M283.49,304.2V291.2 M283.54,304.21V298.16 M279.43,302.72V297.12 M327.69,291.3V287.81 M319.8,293.12V287.63 M323.77,292.25V284.99 M284.77,304.45V293.47 M299.93,300.07V296.99 M271.21,302.82V297.45 M297.82,302.18V297.92 M279.37,302.64V298.16 M289.81,303.06V293.64 M271.1,303.52V295.66 M320.93,292.81V289.37 M326.12,291.71V284.34 M324.64,292.07V287.87 M293.15,304.26V299.51 M330.43,290.6V284.48 M292.46,303.98V299.03 M287.37,303.79V300.62 M277.05,299.45V290.15 M287.99,303.6V291 M285.83,304.25V300.17 M301.4,299.72V295.98 M293.21,304.29V291.29 M323.61,292.28V283.43 M308.54,297.58V286.02 M326.97,291.49V285.7 M313.81,296.24V293.06 M314.57,296.09V290.99 M315.78,295.53V288.91 M288.03,303.59V300.42 M326.14,291.7V288.23 M299.09,300.91V296.43 M288.72,303.38V295.68 M329.09,290.94V286.89 M310.03,296.99V292.74 M304.16,299.17V294.41 M280.96,303.69V300.07 M283.37,304.17V292.9 M300.58,299.88V296.02 M324.92,292.02V279.02 M297.77,302.23V298.7 M282.45,303.99V300.66 M291.35,303.54V300.2 M285.23,304.43V300.39 M304.89,299.02V288.38 M315.6,295.64V290.77 M295.63,304.37V298.77 M293.42,304.37V299.92 M274.69,297.07V292.93 M328.58,291.07V287.6 M300.95,299.81V293.33 M322.34,292.53V288.68 M287.13,303.86V299.86 M294.79,304.91V299.85 M327.76,291.29V281.68 M322.94,292.41V289.34 M272.92,298.34V291.01 M324.29,292.14V286.9 M305.94,298.63V295.62 M294.3,304.72V292.57 M320.12,292.98V283.21 M328.85,291V287.01 M277.49,300.05V296.46 M302.08,299.58V292.57 M327.02,291.48V284 M309.52,297.19V289.13 M298.21,301.79V295.98 M273.35,297.53V289.19 M284.84,304.47V292.63 M309.41,336V337.92 M278.61,336V337.78 M308.86,336V339.6 M277.67,336V337.35 M302.2,336V338.95 M294.09,336V337.71 M306.76,336V337.22 M288.94,336V338.43 M328.06,336V339.27 M323.58,336V338.49 M284.97,336V337.77 M328.16,336V339.64 M289.29,336V337.24 M300.65,336V339.44 M295.99,336V337.79 M310.71,336V342.38 M284.49,336V337.27 M291.11,336V338.29 M311.61,336V337.64 M318.43,336V339.89 M301.04,336V337.66 M328.71,336V337.95 M319.79,336V337.72 M284.18,336V340.06 M288.55,336V343.27 M300.5,336V337.61 M284.29,336V338.28 M310.59,336V343.14 M279.71,336V338.2 M283.67,336V344.51 M279.44,336V337.31 M274.58,336V338.2 M324.44,336V341.5 M314.6,336V345.2 M326.43,336V338 M282.04,336V342.69 M315.41,336V337.26 M310.53,336V338.15 M293.25,336V338.01 M281.07,336V337.21 M287.65,336V338.07 M327.85,336V337.46 M328.37,336V337.66 M292.22,336V340.65 M319.91,336V338.33 M273.93,336V338.48 M293.18,336V342.24 M282.49,336V338.11 M324.37,336V337.26 M295.44,336V340.54 M316.62,336V337.28 M273.07,336V337.33 M325.74,336V337.79 M315.46,336V341.78 M291.17,336V337.84 M327.98,336V339.12 M286.6,336V339.72 M289.83,336V337.84 M271.22,336V340.02 M325.53,336V339.21 M327.12,336V337.25 M284.92,336V338.49 M327.93,336V343.35 M294,336V337.78 M296.58,336V338.56 M326.22,336V337.6 M318.75,336V339.88 M319.95,336V340.16 M307.13,336V337.99 M290.01,336V338.1 M317.54,336V337.36 M282.74,336V340 M285.71,336V337.33 M273.01,336V338.81 M290.38,336V345.05 M323.57,336V345.2 M286.76,336V337.38 M276.74,336V338.58 M313.23,336V338.38 M284.93,336V338.28 M307.91,336V339.44 M315.5,336V340.95 M310.53,336V337.46 M321.03,336V337.9 M304.73,336V338.13 M314.92,336V337.64 M285.72,336V337.76 M280.12,336V341.51 M305.41,336V337.99 M294.57,336V345.2 M301.19,336V337.73 M319.1,336V339.32 M329.96,336V337.42 M299.25,336V340.62 M321.01,336V342.12 M273.4,336V337.9 M278.09,336V337.62 M328.89,336V338.95 M326.35,336V338.13 M322.53,336V338.39 M286.47,336V340.21 M327.27,336V337.42 M306.47,336V339.13 M283.95,336V338.12 M279.41,336V337.66 M286.17,336V339.03 M309.77,336V337.65 M271.68,336V337.99 M311.36,336V337.61 M289.58,336V337.65 M318.32,336V338.79 M274.76,336V337.41 M294.52,336V338.8 M309.03,336V337.39 M280.74,336V339.58 M295.38,336V337.87 M289.3,336V343.32 M289.59,336V338.87 M292.25,336V338.28 M322.42,336V345.2" stroke="#5898cf" stroke-width="0.45" stroke-opacity="0.8" fill="none"/>
<line x1="320.8" y1="290" x2="320.8" y2="278.1" stroke="#5898cf" stroke-width="0.6" />
<line x1="276.2" y1="292" x2="276.2" y2="285.1" stroke="#5898cf" stroke-width="0.6" />
<line x1="325.7" y1="336" x2="325.7" y2="351.2" stroke="#5898cf" stroke-width="0.6" />
<line x1="319.5" y1="336" x2="319.5" y2="346" stroke="#5898cf" stroke-width="0.5" />
<path d="M292.74,302.88V320.26 M283.61,302.25V322.57 M296.15,305.13V317.03 M322.32,292.38V300.14 M272.85,298.68V314.57 M323.86,290.58V306.16 M293.14,304.27V311.75 M288.15,303.64V324.37 M278.2,300.99V319.67 M327.11,290.24V297.4 M325.76,293.71V306.91 M275.04,299.02V310.61 M323.54,292.77V311.79 M281.14,304.87V313.65 M295.06,306.33V325.43 M282.43,302.86V314.65 M301.52,299.23V306.32 M286.08,305.07V325.33 M274.34,297.07V314.94 M274.17,298.05V305.05 M306.17,298.73V314.39 M289.45,302.84V317.75 M296.27,304.37V316.96 M296.99,301.11V316.63 M299.9,299.04V317.02 M316.46,294.96V303.01 M298.97,299.45V306.64 M296.54,301.82V314.34 M301.08,297.95V313.77 M276.69,299.88V318.1 M301.15,297.99V311.55 M293.54,306.22V313.53 M320.85,294.81V312.26 M318.45,292.7V314.39 M300.04,301.82V322.39 M281.41,304.94V325.76 M275.73,297.21V315.07 M281.05,305.3V314.97 M318.49,292.48V306.02 M324.43,290.95V300.42" stroke="#d4e6f5" stroke-width="0.4" stroke-opacity="0.55" fill="none"/>
<line x1="419.4" y1="10.2" x2="519.8" y2="10.2" stroke="#8c8c8c" stroke-width="0.9" />
<line x1="419.4" y1="97.5" x2="519.8" y2="97.5" stroke="#8c8c8c" stroke-width="0.9" />
<line x1="419.4" y1="10.2" x2="419.4" y2="97.5" stroke="#8c8c8c" stroke-width="0.9" />
<line x1="519.8" y1="10.2" x2="519.8" y2="97.5" stroke="#8c8c8c" stroke-width="0.9" />
<line x1="416.2" y1="16.4" x2="419.4" y2="16.4" stroke="#8c8c8c" stroke-width="0.8" />
<text x="411.3" y="18.9" font-size="7.0" text-anchor="end" fill="#231f20"  stroke="#231f20" stroke-width="0.22">3.0</text>
<line x1="416.2" y1="28.8" x2="419.4" y2="28.8" stroke="#8c8c8c" stroke-width="0.8" />
<text x="411.3" y="31.3" font-size="7.0" text-anchor="end" fill="#231f20"  stroke="#231f20" stroke-width="0.22">2.5</text>
<line x1="416.2" y1="41.2" x2="419.4" y2="41.2" stroke="#8c8c8c" stroke-width="0.8" />
<text x="411.3" y="43.7" font-size="7.0" text-anchor="end" fill="#231f20"  stroke="#231f20" stroke-width="0.22">2.0</text>
<line x1="416.2" y1="53.6" x2="419.4" y2="53.6" stroke="#8c8c8c" stroke-width="0.8" />
<text x="411.3" y="56.1" font-size="7.0" text-anchor="end" fill="#231f20"  stroke="#231f20" stroke-width="0.22">1.5</text>
<line x1="416.2" y1="66" x2="419.4" y2="66" stroke="#8c8c8c" stroke-width="0.8" />
<text x="411.3" y="68.5" font-size="7.0" text-anchor="end" fill="#231f20"  stroke="#231f20" stroke-width="0.22">1.0</text>
<line x1="416.2" y1="78.4" x2="419.4" y2="78.4" stroke="#8c8c8c" stroke-width="0.8" />
<text x="411.3" y="80.9" font-size="7.0" text-anchor="end" fill="#231f20"  stroke="#231f20" stroke-width="0.22">0.5</text>
<line x1="416.2" y1="90.8" x2="419.4" y2="90.8" stroke="#8c8c8c" stroke-width="0.8" />
<text x="411.3" y="93.3" font-size="7.0" text-anchor="end" fill="#231f20"  stroke="#231f20" stroke-width="0.22">0</text>
<line x1="421.6" y1="97.5" x2="421.6" y2="100.3" stroke="#8c8c8c" stroke-width="0.8" />
<text x="421.6" y="109.8" font-size="7.0" text-anchor="middle" fill="#231f20"  stroke="#231f20" stroke-width="0.22">0</text>
<line x1="434.6" y1="97.5" x2="434.6" y2="100.3" stroke="#8c8c8c" stroke-width="0.8" />
<text x="434.6" y="109.8" font-size="7.0" text-anchor="middle" fill="#231f20"  stroke="#231f20" stroke-width="0.22">5</text>
<line x1="447.6" y1="97.5" x2="447.6" y2="100.3" stroke="#8c8c8c" stroke-width="0.8" />
<text x="447.6" y="109.8" font-size="7.0" text-anchor="middle" fill="#231f20"  stroke="#231f20" stroke-width="0.22">10</text>
<line x1="460.6" y1="97.5" x2="460.6" y2="100.3" stroke="#8c8c8c" stroke-width="0.8" />
<text x="460.6" y="109.8" font-size="7.0" text-anchor="middle" fill="#231f20"  stroke="#231f20" stroke-width="0.22">15</text>
<line x1="473.6" y1="97.5" x2="473.6" y2="100.3" stroke="#8c8c8c" stroke-width="0.8" />
<text x="473.6" y="109.8" font-size="7.0" text-anchor="middle" fill="#231f20"  stroke="#231f20" stroke-width="0.22">20</text>
<line x1="486.6" y1="97.5" x2="486.6" y2="100.3" stroke="#8c8c8c" stroke-width="0.8" />
<text x="486.6" y="109.8" font-size="7.0" text-anchor="middle" fill="#231f20"  stroke="#231f20" stroke-width="0.22">25</text>
<line x1="499.6" y1="97.5" x2="499.6" y2="100.3" stroke="#8c8c8c" stroke-width="0.8" />
<text x="499.6" y="109.8" font-size="7.0" text-anchor="middle" fill="#231f20"  stroke="#231f20" stroke-width="0.22">30</text>
<line x1="512.6" y1="97.5" x2="512.6" y2="100.3" stroke="#8c8c8c" stroke-width="0.8" />
<text x="512.6" y="109.8" font-size="7.0" text-anchor="middle" fill="#231f20"  stroke="#231f20" stroke-width="0.22">35</text>
<text x="468.5" y="122.9" font-size="7.2" text-anchor="middle" fill="#231f20"  stroke="#231f20" stroke-width="0.22">Time (s)</text>
<text x="393.6" y="54.2" font-size="7.2" text-anchor="middle" fill="#231f20" transform="rotate(-90 393.6 54.2)" stroke="#231f20" stroke-width="0.22"><tspan font-style="italic">V</tspan> (V)</text>
<polyline points="421.1,91.1 422.2,89.99 423.3,88.99 424.4,88.17 425.5,86.8 426.6,85.46 427.7,84.17 428.8,82.9 429.9,81.3 431,80.2 432.08,78.89 433.16,77.65 434.24,76.45 435.32,74.64 436.4,73.6 437.43,72.1 438.47,70.58 439.5,69.5 440.7,69.02 441.9,68.1 443,67.5 444.1,66.31 445.2,65.9 446.3,64.77 447.4,63.29 448.5,61.5 449.6,60.41 450.7,59.18 451.8,57.66 452.9,56.7 454,55.58 455.1,55.16 456.2,54.05 457.3,53.36 458.4,52.8 459.5,51.74 460.6,50.71 461.7,50.13 462.8,49.24 463.9,48.4 464.99,47.68 466.07,46.49 467.16,45.61 468.25,44.55 469.34,43.7 470.43,42.6 471.51,41.51 472.6,40.7 473.7,40.13 474.8,39.21 475.9,38.19 477,37.18 478.1,35.99 479.2,35.2 480.3,34.09 481.4,33.22 482.5,32.15 483.6,31.72 484.7,30.55 485.8,29.7 486.9,29.23 488,28.19 489.1,27.87 490.2,27.08 491.3,25.77 492.4,25.4 493.48,24.46 494.57,24.22 495.65,23.18 496.73,22.8 497.82,21.66 498.9,21 499.95,20.01 501,19.72 502.05,19.13 503.1,18.09 504.15,17.27 505.2,16.76 506.25,16.51 507.3,15.5" fill="none" stroke="#f8766d" stroke-width="1.15" stroke-linejoin="round" />
<polyline points="421.1,91.1 422.2,90.36 423.3,89.26 424.4,88.47 425.5,87.56 426.6,86.7 427.7,86.15 428.8,85.06 429.9,84.37 431,83.5 432.09,82.71 433.18,81.84 434.27,81.28 435.36,80.27 436.45,79.71 437.54,78.73 438.63,78.08 439.72,77.23 440.81,76.48 441.9,75.8 443,75.07 444.1,74.09 445.2,72.97 446.3,72.29 447.4,71.1 448.5,70.3 449.6,69.57 450.7,69.07 451.8,68.29 452.9,67.39 454,67.06 455.1,66.06 456.2,65.39 457.3,64.8 458.39,64.25 459.48,63.41 460.57,62.74 461.66,61.99 462.75,61.34 463.84,60.87 464.93,60.08 466.02,59.56 467.11,58.81 468.2,58.2 469.3,57.51 470.4,57.03 471.5,56.17 472.6,55.53 473.7,54.97 474.8,54.02 475.9,53.34 477,52.8 478.1,52.41 479.2,51.83 480.3,51.05 481.4,50.48 482.5,50.15 483.6,49.68 484.7,48.83 485.8,48.4 486.8,48.28 487.8,47.95 488.8,47.54 489.8,47.17 490.8,46.74 491.8,46.42 492.8,46.49 493.8,45.9 494.8,45.78 495.8,45.3 496.8,45.1 497.85,44.86 498.9,44.4 499.95,43.91 501,43.49 502.05,43.34 503.1,42.71 504.15,42.4 505.2,42.16 506.25,41.91 507.3,41.4" fill="none" stroke="#5898cf" stroke-width="1.15" stroke-linejoin="round" />
<polyline points="421.1,91.1 422.2,90.53 423.3,89.83 424.4,89.43 425.5,88.61 426.6,87.95 427.7,87.43 428.8,86.88 429.9,86.17 431,85.7 432.09,85.09 433.18,84.64 434.27,84.19 435.36,83.55 436.45,83.11 437.54,82.76 438.63,82.27 439.72,81.67 440.81,81.17 441.9,80.6 442.9,80.29 443.9,79.82 444.9,79.45 445.9,79.11 446.9,79.04 447.9,78.64 448.9,78.38 449.9,77.77 450.9,77.61 451.9,77.23 452.9,76.9 453.9,76.67 454.9,76.25 455.9,76.15 456.9,75.57 457.9,75.41 458.9,75.17 459.9,74.92 460.9,74.57 461.9,74.26 462.9,73.99 463.9,73.6 464.99,73.43 466.08,72.98 467.17,72.79 468.26,72.56 469.35,72.26 470.44,71.84 471.53,71.66 472.62,71.39 473.71,71.01 474.8,70.7 475.8,70.5 476.8,70.19 477.8,70.02 478.8,69.79 479.8,69.39 480.8,69.32 481.8,69.19 482.8,68.92 483.8,68.64 484.8,68.3 485.8,68.1 486.8,67.97 487.8,67.72 488.8,67.48 489.8,67.4 490.8,66.98 491.8,66.98 492.8,66.56 493.8,66.53 494.8,66.29 495.8,66.02 496.8,65.9 497.85,65.74 498.9,65.46 499.95,65.27 501,65.15 502.05,64.73 503.1,64.43 504.15,64.3 505.2,64.19 506.25,63.83 507.3,63.7" fill="none" stroke="#8a8a8a" stroke-width="1.0" stroke-linejoin="round" />
<text x="475.3" y="25.6" font-size="7.0" text-anchor="start" fill="#f5918a" stroke="none">22 µF</text>
<text x="482.5" y="44" font-size="7.0" text-anchor="start" fill="#68a5d8" stroke="none">47 µF</text>
<text x="487.5" y="62.6" font-size="7.0" text-anchor="start" fill="#9a9a9a" stroke="none">100 µF</text>
<line x1="578.8" y1="9.4" x2="679.3" y2="9.4" stroke="#8c8c8c" stroke-width="0.9" />
<line x1="578.8" y1="97.4" x2="679.3" y2="97.4" stroke="#8c8c8c" stroke-width="0.9" />
<line x1="578.8" y1="9.4" x2="578.8" y2="97.4" stroke="#8c8c8c" stroke-width="0.9" />
<line x1="679.3" y1="9.4" x2="679.3" y2="97.4" stroke="#8c8c8c" stroke-width="0.9" />
<line x1="576.2" y1="18.5" x2="578.8" y2="18.5" stroke="#8c8c8c" stroke-width="0.8" />
<text x="571.6" y="21" font-size="7.0" text-anchor="end" fill="#231f20"  stroke="#231f20" stroke-width="0.22">1.0</text>
<line x1="576.2" y1="35.95" x2="578.8" y2="35.95" stroke="#8c8c8c" stroke-width="0.8" />
<text x="571.6" y="38.45" font-size="7.0" text-anchor="end" fill="#231f20"  stroke="#231f20" stroke-width="0.22">0.5</text>
<line x1="576.2" y1="53.4" x2="578.8" y2="53.4" stroke="#8c8c8c" stroke-width="0.8" />
<text x="571.6" y="55.9" font-size="7.0" text-anchor="end" fill="#231f20"  stroke="#231f20" stroke-width="0.22">0</text>
<line x1="576.2" y1="70.85" x2="578.8" y2="70.85" stroke="#8c8c8c" stroke-width="0.8" />
<text x="571.6" y="73.35" font-size="7.0" text-anchor="end" fill="#231f20"  stroke="#231f20" stroke-width="0.22"><tspan font-size="8.4">–</tspan>0.5</text>
<line x1="576.2" y1="88.3" x2="578.8" y2="88.3" stroke="#8c8c8c" stroke-width="0.8" />
<text x="571.6" y="90.8" font-size="7.0" text-anchor="end" fill="#231f20"  stroke="#231f20" stroke-width="0.22"><tspan font-size="8.4">–</tspan>1.0</text>
<line x1="578.8" y1="97.4" x2="578.8" y2="100.2" stroke="#8c8c8c" stroke-width="0.8" />
<text x="578.8" y="110" font-size="7.0" text-anchor="middle" fill="#231f20"  stroke="#231f20" stroke-width="0.22">0</text>
<line x1="612.3" y1="97.4" x2="612.3" y2="100.2" stroke="#8c8c8c" stroke-width="0.8" />
<text x="612.3" y="110" font-size="7.0" text-anchor="middle" fill="#231f20"  stroke="#231f20" stroke-width="0.22">100</text>
<line x1="645.8" y1="97.4" x2="645.8" y2="100.2" stroke="#8c8c8c" stroke-width="0.8" />
<text x="645.8" y="110" font-size="7.0" text-anchor="middle" fill="#231f20"  stroke="#231f20" stroke-width="0.22">200</text>
<line x1="679.3" y1="97.4" x2="679.3" y2="100.2" stroke="#8c8c8c" stroke-width="0.8" />
<text x="679.3" y="110" font-size="7.0" text-anchor="middle" fill="#231f20"  stroke="#231f20" stroke-width="0.22">300</text>
<text x="629.3" y="120.7" font-size="7.2" text-anchor="middle" fill="#231f20"  stroke="#231f20" stroke-width="0.22">Time (µs)</text>
<text x="550.4" y="53.8" font-size="7.2" text-anchor="middle" fill="#231f20" transform="rotate(-90 550.4 53.8)" stroke="#231f20" stroke-width="0.22"><tspan font-style="italic">I</tspan><tspan font-size="5" dy="1.4">sc</tspan><tspan dy="-1.4"> (mA)</tspan></text>
<polyline points="578.8,53.4 578.97,51.21 579.13,49.03 579.3,46.86 579.47,44.72 579.64,42.62 579.8,40.55 579.97,38.54 580.14,36.59 580.31,34.7 580.47,32.89 580.64,31.15 580.81,29.51 580.98,27.96 581.14,26.51 581.31,25.17 581.48,23.93 581.65,22.82 581.81,21.82 581.98,20.95 582.15,20.21 582.32,19.6 582.48,19.12 582.65,18.78 582.82,18.57 582.99,18.5 583.15,18.57 583.32,18.78 583.49,19.12 583.66,19.6 583.82,20.21 583.99,20.95 584.16,21.82 584.33,22.82 584.5,23.93 584.66,25.17 584.83,26.51 585,27.96 585.16,29.51 585.33,31.15 585.5,32.89 585.67,34.7 585.83,36.59 586,38.54 586.17,40.55 586.34,42.62 586.5,44.72 586.67,46.86 586.84,49.03 587.01,51.21 587.17,53.4 587.34,55.57 587.51,57.73 587.68,59.87 587.84,61.99 588.01,64.08 588.18,66.12 588.35,68.11 588.51,70.05 588.68,71.91 588.85,73.71 589.02,75.42 589.18,77.05 589.35,78.59 589.52,80.02 589.69,81.35 589.85,82.57 590.02,83.68 590.19,84.66 590.36,85.52 590.52,86.26 590.69,86.87 590.86,87.34 591.03,87.68 591.19,87.88 591.36,87.95 591.53,87.88 591.7,87.68 591.87,87.34 592.03,86.87 592.2,86.26 592.37,85.52 592.53,84.66 592.7,83.68 592.87,82.57 593.04,81.35 593.2,80.02 593.37,78.59 593.54,77.05 593.71,75.42 593.88,73.71 594.04,71.91 594.21,70.05 594.38,68.11 594.54,66.12 594.71,64.08 594.88,61.99 595.05,59.87 595.21,57.73 595.38,55.57 595.55,53.4 595.72,51.06 595.88,48.72 596.05,46.4 596.22,44.11 596.39,41.86 596.55,39.65 596.72,37.5 596.89,35.41 597.06,33.39 597.22,31.45 597.39,29.6 597.56,27.84 597.73,26.18 597.89,24.63 598.06,23.19 598.23,21.87 598.4,20.68 598.56,19.61 598.73,18.68 598.9,17.88 599.07,17.23 599.23,16.72 599.4,16.35 599.57,16.13 599.74,16.06 599.9,16.13 600.07,16.35 600.24,16.72 600.41,17.23 600.57,17.88 600.74,18.68 600.91,19.61 601.08,20.68 601.25,21.87 601.41,23.19 601.58,24.63 601.75,26.18 601.91,27.84 602.08,29.6 602.25,31.45 602.42,33.39 602.58,35.41 602.75,37.5 602.92,39.65 603.09,41.86 603.25,44.11 603.42,46.4 603.59,48.72 603.76,51.06 603.92,53.4 604.09,55.57 604.26,57.73 604.43,59.87 604.59,61.99 604.76,64.08 604.93,66.12 605.1,68.11 605.26,70.05 605.43,71.91 605.6,73.71 605.77,75.42 605.93,77.05 606.1,78.59 606.27,80.02 606.44,81.35 606.6,82.57 606.77,83.68 606.94,84.66 607.11,85.52 607.27,86.26 607.44,86.87 607.61,87.34 607.78,87.68 607.94,87.88 608.11,87.95 608.28,87.88 608.45,87.68 608.62,87.34 608.78,86.87 608.95,86.26 609.12,85.52 609.28,84.66 609.45,83.68 609.62,82.57 609.79,81.35 609.95,80.02 610.12,78.59 610.29,77.05 610.46,75.42 610.62,73.71 610.79,71.91 610.96,70.05 611.13,68.11 611.29,66.12 611.46,64.08 611.63,61.99 611.8,59.87 611.96,57.73 612.13,55.57 612.3,53.4 612.47,51.27 612.63,49.16 612.8,47.06 612.97,44.98 613.14,42.94 613.3,40.94 613.47,38.99 613.64,37.09 613.81,35.26 613.97,33.5 614.14,31.82 614.31,30.23 614.48,28.72 614.64,27.32 614.81,26.01 614.98,24.82 615.15,23.73 615.31,22.77 615.48,21.92 615.65,21.2 615.82,20.61 615.98,20.15 616.15,19.81 616.32,19.61 616.49,19.55 616.65,19.61 616.82,19.81 616.99,20.15 617.16,20.61 617.32,21.2 617.49,21.92 617.66,22.77 617.83,23.73 618,24.82 618.16,26.01 618.33,27.32 618.5,28.72 618.66,30.23 618.83,31.82 619,33.5 619.17,35.26 619.33,37.09 619.5,38.99 619.67,40.94 619.84,42.94 620,44.98 620.17,47.06 620.34,49.16 620.51,51.27 620.67,53.4 620.84,55.44 621.01,57.47 621.18,59.48 621.34,61.47 621.51,63.43 621.68,65.35 621.85,67.22 622.01,69.04 622.18,70.79 622.35,72.48 622.52,74.09 622.68,75.62 622.85,77.06 623.02,78.41 623.19,79.66 623.35,80.8 623.52,81.84 623.69,82.77 623.86,83.58 624.02,84.27 624.19,84.84 624.36,85.28 624.53,85.6 624.69,85.79 624.86,85.86 625.03,85.79 625.2,85.6 625.37,85.28 625.53,84.84 625.7,84.27 625.87,83.58 626.03,82.77 626.2,81.84 626.37,80.8 626.54,79.66 626.7,78.41 626.87,77.06 627.04,75.62 627.21,74.09 627.38,72.48 627.54,70.79 627.71,69.04 627.88,67.22 628.04,65.35 628.21,63.43 628.38,61.47 628.55,59.48 628.71,57.47 628.88,55.44 629.05,53.4 629.22,51.47 629.38,49.55 629.55,47.65 629.72,45.76 629.89,43.91 630.05,42.09 630.22,40.32 630.39,38.6 630.56,36.94 630.72,35.35 630.89,33.82 631.06,32.38 631.23,31.01 631.39,29.74 631.56,28.55 631.73,27.47 631.9,26.49 632.06,25.61 632.23,24.84 632.4,24.19 632.57,23.65 632.73,23.23 632.9,22.93 633.07,22.75 633.24,22.69 633.4,22.75 633.57,22.93 633.74,23.23 633.91,23.65 634.07,24.19 634.24,24.84 634.41,25.61 634.58,26.49 634.75,27.47 634.91,28.55 635.08,29.74 635.25,31.01 635.41,32.38 635.58,33.82 635.75,35.35 635.92,36.94 636.08,38.6 636.25,40.32 636.42,42.09 636.59,43.91 636.75,45.76 636.92,47.65 637.09,49.55 637.26,51.47 637.42,53.4 637.59,55.48 637.76,57.56 637.93,59.61 638.09,61.65 638.26,63.65 638.43,65.61 638.6,67.52 638.76,69.37 638.93,71.17 639.1,72.89 639.27,74.53 639.43,76.1 639.6,77.57 639.77,78.95 639.94,80.22 640.1,81.39 640.27,82.45 640.44,83.4 640.61,84.23 640.77,84.93 640.94,85.51 641.11,85.97 641.28,86.29 641.44,86.49 641.61,86.55 641.78,86.49 641.95,86.29 642.12,85.97 642.28,85.51 642.45,84.93 642.62,84.23 642.78,83.4 642.95,82.45 643.12,81.39 643.29,80.22 643.45,78.95 643.62,77.57 643.79,76.1 643.96,74.53 644.12,72.89 644.29,71.17 644.46,69.37 644.63,67.52 644.79,65.61 644.96,63.65 645.13,61.65 645.3,59.61 645.46,57.56 645.63,55.48 645.8,53.4 645.97,51.52 646.13,49.64 646.3,47.78 646.47,45.94 646.64,44.13 646.8,42.35 646.97,40.62 647.14,38.94 647.31,37.32 647.47,35.76 647.64,34.27 647.81,32.85 647.98,31.52 648.14,30.27 648.31,29.12 648.48,28.06 648.65,27.1 648.81,26.24 648.98,25.49 649.15,24.85 649.32,24.33 649.48,23.92 649.65,23.62 649.82,23.45 649.99,23.39 650.15,23.45 650.32,23.62 650.49,23.92 650.66,24.33 650.82,24.85 650.99,25.49 651.16,26.24 651.33,27.1 651.49,28.06 651.66,29.12 651.83,30.27 652,31.52 652.16,32.85 652.33,34.27 652.5,35.76 652.67,37.32 652.83,38.94 653,40.62 653.17,42.35 653.34,44.13 653.5,45.94 653.67,47.78 653.84,49.64 654.01,51.52 654.17,53.4 654.34,55.48 654.51,57.56 654.68,59.61 654.84,61.65 655.01,63.65 655.18,65.61 655.35,67.52 655.51,69.37 655.68,71.17 655.85,72.89 656.02,74.53 656.18,76.1 656.35,77.57 656.52,78.95 656.69,80.22 656.86,81.39 657.02,82.45 657.19,83.4 657.36,84.23 657.52,84.93 657.69,85.51 657.86,85.97 658.03,86.29 658.19,86.49 658.36,86.55 658.53,86.49 658.7,86.29 658.87,85.97 659.03,85.51 659.2,84.93 659.37,84.23 659.53,83.4 659.7,82.45 659.87,81.39 660.04,80.22 660.2,78.95 660.37,77.57 660.54,76.1 660.71,74.53 660.88,72.89 661.04,71.17 661.21,69.37 661.38,67.52 661.54,65.61 661.71,63.65 661.88,61.65 662.05,59.61 662.21,57.56 662.38,55.48 662.55,53.4 662.72,51.52 662.88,49.64 663.05,47.78 663.22,45.94 663.39,44.13 663.55,42.35 663.72,40.62 663.89,38.94 664.06,37.32 664.22,35.76 664.39,34.27 664.56,32.85 664.73,31.52 664.89,30.27 665.06,29.12 665.23,28.06 665.4,27.1 665.56,26.24 665.73,25.49 665.9,24.85 666.07,24.33 666.23,23.92 666.4,23.62 666.57,23.45 666.74,23.39 666.9,23.45 667.07,23.62 667.24,23.92 667.41,24.33 667.57,24.85 667.74,25.49 667.91,26.24 668.08,27.1 668.24,28.06 668.41,29.12 668.58,30.27 668.75,31.52 668.91,32.85 669.08,34.27 669.25,35.76 669.42,37.32 669.58,38.94 669.75,40.62 669.92,42.35 670.09,44.13 670.25,45.94 670.42,47.78 670.59,49.64 670.76,51.52 670.92,53.4 671.09,55.48 671.26,57.56 671.43,59.61 671.59,61.65 671.76,63.65 671.93,65.61 672.1,67.52 672.26,69.37 672.43,71.17 672.6,72.89 672.77,74.53 672.93,76.1 673.1,77.57 673.27,78.95 673.44,80.22 673.61,81.39 673.77,82.45 673.94,83.4 674.11,84.23 674.27,84.93 674.44,85.51 674.61,85.97 674.78,86.29 674.94,86.49 675.11,86.55 675.28,86.49 675.45,86.29 675.62,85.97 675.78,85.51 675.95,84.93 676.12,84.23 676.28,83.4 676.45,82.45 676.62,81.39 676.79,80.22 676.95,78.95 677.12,77.57 677.29,76.1 677.46,74.53 677.62,72.89 677.79,71.17 677.96,69.37 678.13,67.52 678.29,65.61 678.46,63.65 678.63,61.65 678.8,59.61 678.96,57.56 679.13,55.48 679.3,53.4" fill="none" stroke="#f9b97c" stroke-width="0.75" stroke-linejoin="round" />
<line x1="417.3" y1="140.6" x2="519.3" y2="140.6" stroke="#8c8c8c" stroke-width="0.9" />
<line x1="417.3" y1="229.4" x2="519.3" y2="229.4" stroke="#8c8c8c" stroke-width="0.9" />
<line x1="417.3" y1="140.6" x2="417.3" y2="229.4" stroke="#8c8c8c" stroke-width="0.9" />
<line x1="519.3" y1="140.6" x2="519.3" y2="229.4" stroke="#8c8c8c" stroke-width="0.9" />
<line x1="414.7" y1="158.2" x2="417.3" y2="158.2" stroke="#8c8c8c" stroke-width="0.8" />
<text x="410.8" y="160.7" font-size="7.0" text-anchor="end" fill="#231f20"  stroke="#231f20" stroke-width="0.22">1.0</text>
<line x1="414.7" y1="193.7" x2="417.3" y2="193.7" stroke="#8c8c8c" stroke-width="0.8" />
<text x="410.8" y="196.2" font-size="7.0" text-anchor="end" fill="#231f20"  stroke="#231f20" stroke-width="0.22">0.5</text>
<line x1="414.7" y1="229.2" x2="417.3" y2="229.2" stroke="#8c8c8c" stroke-width="0.8" />
<text x="410.8" y="231.7" font-size="7.0" text-anchor="end" fill="#231f20"  stroke="#231f20" stroke-width="0.22">0</text>
<text x="427.8" y="239.3" font-size="7.0" text-anchor="middle" fill="#231f20"  stroke="#231f20" stroke-width="0.22">10</text>
<text x="448.3" y="239.3" font-size="7.0" text-anchor="middle" fill="#231f20"  stroke="#231f20" stroke-width="0.22">25</text>
<text x="468.6" y="239.3" font-size="7.0" text-anchor="middle" fill="#231f20"  stroke="#231f20" stroke-width="0.22">50</text>
<text x="489.2" y="239.3" font-size="7.0" text-anchor="middle" fill="#231f20"  stroke="#231f20" stroke-width="0.22">75</text>
<text x="509.7" y="239.3" font-size="7.0" text-anchor="middle" fill="#231f20"  stroke="#231f20" stroke-width="0.22">100</text>
<text x="468" y="250.2" font-size="7.2" text-anchor="middle" fill="#231f20"  stroke="#231f20" stroke-width="0.22">Power (%)</text>
<text x="395" y="187.3" font-size="7.2" text-anchor="middle" fill="#231f20" transform="rotate(-90 395 187.3)" stroke="#231f20" stroke-width="0.22"><tspan font-style="italic">I</tspan><tspan font-size="5" dy="1.4">sc</tspan><tspan dy="-1.4"> (mA)</tspan></text>
<rect x="419.25" y="223.52" width="4.9" height="5.88" fill="#ffffff" stroke="#f7928b" stroke-width="0.65"/>
<line x1="419.55" y1="223.52" x2="423.85" y2="223.52" stroke="#f8766d" stroke-width="1.0" />
<circle cx="422.47" cy="223.17" r="0.6" fill="#f8766d"/>
<circle cx="423.12" cy="222.68" r="0.6" fill="#f8766d"/>
<circle cx="423.05" cy="222.84" r="0.6" fill="#f8766d"/>
<circle cx="421.59" cy="224.86" r="0.6" fill="#f8766d"/>
<circle cx="422.18" cy="222.26" r="0.6" fill="#f8766d"/>
<circle cx="420.46" cy="222.38" r="0.6" fill="#f8766d"/>
<circle cx="420.89" cy="223.61" r="0.6" fill="#f8766d"/>
<line x1="421.7" y1="224.94" x2="421.7" y2="222.1" stroke="#f8766d" stroke-width="0.3" />
<rect x="425.35" y="224.51" width="4.9" height="4.89" fill="#ffffff" stroke="#8ebde6" stroke-width="0.65"/>
<line x1="425.65" y1="224.51" x2="429.95" y2="224.51" stroke="#5898cf" stroke-width="1.0" />
<circle cx="428.04" cy="224.11" r="0.6" fill="#5898cf"/>
<circle cx="426.89" cy="225.61" r="0.6" fill="#5898cf"/>
<circle cx="429.13" cy="224.86" r="0.6" fill="#5898cf"/>
<circle cx="426.71" cy="223.48" r="0.6" fill="#5898cf"/>
<circle cx="426.64" cy="223.39" r="0.6" fill="#5898cf"/>
<circle cx="426.61" cy="223.9" r="0.6" fill="#5898cf"/>
<circle cx="428.99" cy="225.64" r="0.6" fill="#5898cf"/>
<line x1="427.8" y1="225.65" x2="427.8" y2="222.81" stroke="#5898cf" stroke-width="0.3" />
<rect x="431.25" y="225.22" width="4.9" height="4.18" fill="#ffffff" stroke="#a8a8a8" stroke-width="0.65"/>
<line x1="431.55" y1="225.22" x2="435.85" y2="225.22" stroke="#8a8a8a" stroke-width="1.0" />
<circle cx="432.79" cy="225.73" r="0.6" fill="#8a8a8a"/>
<circle cx="434.89" cy="220.79" r="0.6" fill="#8a8a8a"/>
<circle cx="435.18" cy="225.22" r="0.6" fill="#8a8a8a"/>
<circle cx="434.27" cy="223.62" r="0.6" fill="#8a8a8a"/>
<circle cx="435.11" cy="225.76" r="0.6" fill="#8a8a8a"/>
<circle cx="435.19" cy="222.66" r="0.6" fill="#8a8a8a"/>
<circle cx="433.06" cy="221.36" r="0.6" fill="#8a8a8a"/>
<line x1="433.7" y1="227.07" x2="433.7" y2="220.68" stroke="#8a8a8a" stroke-width="0.3" />
<rect x="439.75" y="213.3" width="4.9" height="16.1" fill="#ffffff" stroke="#f7928b" stroke-width="0.65"/>
<line x1="440.05" y1="213.3" x2="444.35" y2="213.3" stroke="#f8766d" stroke-width="1.0" />
<circle cx="441.13" cy="213.72" r="0.6" fill="#f8766d"/>
<circle cx="440.81" cy="214.48" r="0.6" fill="#f8766d"/>
<circle cx="442.53" cy="213.93" r="0.6" fill="#f8766d"/>
<circle cx="442.77" cy="214.99" r="0.6" fill="#f8766d"/>
<circle cx="441.59" cy="213.8" r="0.6" fill="#f8766d"/>
<circle cx="442.14" cy="212.09" r="0.6" fill="#f8766d"/>
<circle cx="442.14" cy="213.88" r="0.6" fill="#f8766d"/>
<line x1="442.2" y1="215" x2="442.2" y2="211.45" stroke="#f8766d" stroke-width="0.3" />
<rect x="445.85" y="224.51" width="4.9" height="4.89" fill="#ffffff" stroke="#8ebde6" stroke-width="0.65"/>
<line x1="446.15" y1="224.51" x2="450.45" y2="224.51" stroke="#5898cf" stroke-width="1.0" />
<circle cx="446.88" cy="223.15" r="0.6" fill="#5898cf"/>
<circle cx="446.77" cy="222.19" r="0.6" fill="#5898cf"/>
<circle cx="449.4" cy="222.99" r="0.6" fill="#5898cf"/>
<circle cx="449.22" cy="225.59" r="0.6" fill="#5898cf"/>
<circle cx="448.55" cy="224.35" r="0.6" fill="#5898cf"/>
<circle cx="446.85" cy="225.62" r="0.6" fill="#5898cf"/>
<circle cx="449.76" cy="225.01" r="0.6" fill="#5898cf"/>
<line x1="448.3" y1="225.65" x2="448.3" y2="222.1" stroke="#5898cf" stroke-width="0.3" />
<rect x="451.75" y="226" width="4.9" height="3.4" fill="#ffffff" stroke="#a8a8a8" stroke-width="0.65"/>
<line x1="452.05" y1="226" x2="456.35" y2="226" stroke="#8a8a8a" stroke-width="1.0" />
<circle cx="455.02" cy="226.65" r="0.6" fill="#8a8a8a"/>
<circle cx="455.61" cy="225.09" r="0.6" fill="#8a8a8a"/>
<circle cx="453.74" cy="226.34" r="0.6" fill="#8a8a8a"/>
<circle cx="455.08" cy="225.95" r="0.6" fill="#8a8a8a"/>
<circle cx="454.99" cy="226.84" r="0.6" fill="#8a8a8a"/>
<circle cx="455.35" cy="225.37" r="0.6" fill="#8a8a8a"/>
<circle cx="455.63" cy="226.99" r="0.6" fill="#8a8a8a"/>
<line x1="454.2" y1="227.07" x2="454.2" y2="224.94" stroke="#8a8a8a" stroke-width="0.3" />
<rect x="460.05" y="193.34" width="4.9" height="36.06" fill="#ffffff" stroke="#f7928b" stroke-width="0.65"/>
<line x1="460.35" y1="193.34" x2="464.65" y2="193.34" stroke="#f8766d" stroke-width="1.0" />
<circle cx="461.99" cy="194.8" r="0.6" fill="#f8766d"/>
<circle cx="463.84" cy="192.95" r="0.6" fill="#f8766d"/>
<circle cx="463.86" cy="193.91" r="0.6" fill="#f8766d"/>
<circle cx="461.9" cy="193.18" r="0.6" fill="#f8766d"/>
<circle cx="461.47" cy="194" r="0.6" fill="#f8766d"/>
<circle cx="461.38" cy="194.84" r="0.6" fill="#f8766d"/>
<circle cx="464.09" cy="192.67" r="0.6" fill="#f8766d"/>
<line x1="462.5" y1="195.12" x2="462.5" y2="191.57" stroke="#f8766d" stroke-width="0.3" />
<rect x="466.15" y="216.42" width="4.9" height="12.98" fill="#ffffff" stroke="#8ebde6" stroke-width="0.65"/>
<line x1="466.45" y1="216.42" x2="470.75" y2="216.42" stroke="#5898cf" stroke-width="1.0" />
<circle cx="467.16" cy="217.38" r="0.6" fill="#5898cf"/>
<circle cx="468.71" cy="215.04" r="0.6" fill="#5898cf"/>
<circle cx="467.76" cy="216.69" r="0.6" fill="#5898cf"/>
<circle cx="469.64" cy="216.15" r="0.6" fill="#5898cf"/>
<circle cx="468.35" cy="216.55" r="0.6" fill="#5898cf"/>
<circle cx="469.93" cy="217.68" r="0.6" fill="#5898cf"/>
<circle cx="468.58" cy="217.75" r="0.6" fill="#5898cf"/>
<line x1="468.6" y1="217.84" x2="468.6" y2="215" stroke="#5898cf" stroke-width="0.3" />
<rect x="472.05" y="221.67" width="4.9" height="7.73" fill="#ffffff" stroke="#a8a8a8" stroke-width="0.65"/>
<line x1="472.35" y1="221.67" x2="476.65" y2="221.67" stroke="#8a8a8a" stroke-width="1.0" />
<circle cx="473.32" cy="221.02" r="0.6" fill="#8a8a8a"/>
<circle cx="475.94" cy="221.25" r="0.6" fill="#8a8a8a"/>
<circle cx="475.42" cy="221.47" r="0.6" fill="#8a8a8a"/>
<circle cx="474.29" cy="222.58" r="0.6" fill="#8a8a8a"/>
<circle cx="475.6" cy="222.49" r="0.6" fill="#8a8a8a"/>
<circle cx="474.35" cy="222.18" r="0.6" fill="#8a8a8a"/>
<circle cx="475.63" cy="220.68" r="0.6" fill="#8a8a8a"/>
<line x1="474.5" y1="222.81" x2="474.5" y2="220.68" stroke="#8a8a8a" stroke-width="0.3" />
<rect x="480.65" y="180.92" width="4.9" height="48.48" fill="#ffffff" stroke="#f7928b" stroke-width="0.65"/>
<line x1="480.95" y1="180.92" x2="485.25" y2="180.92" stroke="#f8766d" stroke-width="1.0" />
<circle cx="482.95" cy="170.63" r="0.6" fill="#f8766d"/>
<circle cx="483.83" cy="177.9" r="0.6" fill="#f8766d"/>
<circle cx="482.43" cy="178.04" r="0.6" fill="#f8766d"/>
<circle cx="481.97" cy="179.16" r="0.6" fill="#f8766d"/>
<circle cx="484.66" cy="179.56" r="0.6" fill="#f8766d"/>
<circle cx="483.51" cy="170.87" r="0.6" fill="#f8766d"/>
<circle cx="482.58" cy="177.74" r="0.6" fill="#f8766d"/>
<line x1="483.1" y1="185.18" x2="483.1" y2="170.27" stroke="#f8766d" stroke-width="0.3" />
<rect x="486.75" y="208.11" width="4.9" height="21.29" fill="#ffffff" stroke="#8ebde6" stroke-width="0.65"/>
<line x1="487.05" y1="208.11" x2="491.35" y2="208.11" stroke="#5898cf" stroke-width="1.0" />
<circle cx="488.47" cy="209.71" r="0.6" fill="#5898cf"/>
<circle cx="490.38" cy="207.25" r="0.6" fill="#5898cf"/>
<circle cx="490.12" cy="208.75" r="0.6" fill="#5898cf"/>
<circle cx="489.82" cy="207.28" r="0.6" fill="#5898cf"/>
<circle cx="490.03" cy="207.67" r="0.6" fill="#5898cf"/>
<circle cx="489.85" cy="208.74" r="0.6" fill="#5898cf"/>
<circle cx="489.15" cy="209.03" r="0.6" fill="#5898cf"/>
<line x1="489.2" y1="210.03" x2="489.2" y2="206.48" stroke="#5898cf" stroke-width="0.3" />
<rect x="492.65" y="216.56" width="4.9" height="12.84" fill="#ffffff" stroke="#a8a8a8" stroke-width="0.65"/>
<line x1="492.95" y1="216.56" x2="497.25" y2="216.56" stroke="#8a8a8a" stroke-width="1.0" />
<circle cx="495.71" cy="215.82" r="0.6" fill="#8a8a8a"/>
<circle cx="496.53" cy="217.51" r="0.6" fill="#8a8a8a"/>
<circle cx="495.36" cy="216.24" r="0.6" fill="#8a8a8a"/>
<circle cx="495.25" cy="218.51" r="0.6" fill="#8a8a8a"/>
<circle cx="495.65" cy="217.66" r="0.6" fill="#8a8a8a"/>
<circle cx="496.11" cy="216.91" r="0.6" fill="#8a8a8a"/>
<circle cx="496.05" cy="216.25" r="0.6" fill="#8a8a8a"/>
<line x1="495.1" y1="218.55" x2="495.1" y2="215" stroke="#8a8a8a" stroke-width="0.3" />
<rect x="501.15" y="162.46" width="4.9" height="66.94" fill="#ffffff" stroke="#f7928b" stroke-width="0.65"/>
<line x1="501.45" y1="162.46" x2="505.75" y2="162.46" stroke="#f8766d" stroke-width="1.0" />
<circle cx="504.06" cy="163.69" r="0.6" fill="#f8766d"/>
<circle cx="504.65" cy="158.71" r="0.6" fill="#f8766d"/>
<circle cx="504.7" cy="163.67" r="0.6" fill="#f8766d"/>
<circle cx="504.2" cy="157.02" r="0.6" fill="#f8766d"/>
<circle cx="505.06" cy="155.67" r="0.6" fill="#f8766d"/>
<circle cx="503.69" cy="161.52" r="0.6" fill="#f8766d"/>
<circle cx="504.68" cy="166.02" r="0.6" fill="#f8766d"/>
<line x1="503.6" y1="168.14" x2="503.6" y2="155.36" stroke="#f8766d" stroke-width="0.3" />
<rect x="507.25" y="202.22" width="4.9" height="27.18" fill="#ffffff" stroke="#8ebde6" stroke-width="0.65"/>
<line x1="507.55" y1="202.22" x2="511.85" y2="202.22" stroke="#5898cf" stroke-width="1.0" />
<circle cx="509.63" cy="199.69" r="0.6" fill="#5898cf"/>
<circle cx="510.4" cy="200.91" r="0.6" fill="#5898cf"/>
<circle cx="508.65" cy="200.72" r="0.6" fill="#5898cf"/>
<circle cx="509.96" cy="200.47" r="0.6" fill="#5898cf"/>
<circle cx="509.45" cy="201.04" r="0.6" fill="#5898cf"/>
<circle cx="510.58" cy="201.25" r="0.6" fill="#5898cf"/>
<circle cx="510.41" cy="201.18" r="0.6" fill="#5898cf"/>
<line x1="509.7" y1="204.35" x2="509.7" y2="199.38" stroke="#5898cf" stroke-width="0.3" />
<rect x="513.15" y="213.58" width="4.9" height="15.82" fill="#ffffff" stroke="#a8a8a8" stroke-width="0.65"/>
<line x1="513.45" y1="213.58" x2="517.75" y2="213.58" stroke="#8a8a8a" stroke-width="1.0" />
<circle cx="514.51" cy="216.28" r="0.6" fill="#8a8a8a"/>
<circle cx="516.08" cy="214.23" r="0.6" fill="#8a8a8a"/>
<circle cx="516.2" cy="215.33" r="0.6" fill="#8a8a8a"/>
<circle cx="514.13" cy="213.28" r="0.6" fill="#8a8a8a"/>
<circle cx="514.72" cy="214.08" r="0.6" fill="#8a8a8a"/>
<circle cx="514.43" cy="216.15" r="0.6" fill="#8a8a8a"/>
<circle cx="514.58" cy="214.84" r="0.6" fill="#8a8a8a"/>
<line x1="515.6" y1="216.42" x2="515.6" y2="211.45" stroke="#8a8a8a" stroke-width="0.3" />
<line x1="422.9" y1="148.5" x2="437.9" y2="148.5" stroke="#f7928b" stroke-width="0.8" />
<text x="442" y="150.9" font-size="7.0" text-anchor="start" fill="#231f20"  stroke="#231f20" stroke-width="0.22">5 mm</text>
<line x1="422.9" y1="156.55" x2="437.9" y2="156.55" stroke="#8ebde6" stroke-width="0.8" />
<text x="442" y="158.95" font-size="7.0" text-anchor="start" fill="#231f20"  stroke="#231f20" stroke-width="0.22">10 mm</text>
<line x1="422.9" y1="164.6" x2="437.9" y2="164.6" stroke="#a8a8a8" stroke-width="0.8" />
<text x="442" y="167" font-size="7.0" text-anchor="start" fill="#231f20"  stroke="#231f20" stroke-width="0.22">15 mm</text>
<line x1="417.4" y1="271.2" x2="518.5" y2="271.2" stroke="#8c8c8c" stroke-width="0.9" />
<line x1="417.4" y1="360.1" x2="518.5" y2="360.1" stroke="#8c8c8c" stroke-width="0.9" />
<line x1="417.4" y1="271.2" x2="417.4" y2="360.1" stroke="#fbc4bf" stroke-width="0.9" />
<line x1="518.5" y1="271.2" x2="518.5" y2="360.1" stroke="#b5d5ee" stroke-width="0.9" />
<line x1="414.8" y1="272.2" x2="417.4" y2="272.2" stroke="#fbc4bf" stroke-width="0.8" />
<text x="411" y="274.7" font-size="7.0" text-anchor="end" fill="#f8766d"  stroke="#f8766d" stroke-width="0.22">1.0</text>
<line x1="414.8" y1="289.72" x2="417.4" y2="289.72" stroke="#fbc4bf" stroke-width="0.8" />
<text x="411" y="292.22" font-size="7.0" text-anchor="end" fill="#f8766d"  stroke="#f8766d" stroke-width="0.22">0.8</text>
<line x1="414.8" y1="307.24" x2="417.4" y2="307.24" stroke="#fbc4bf" stroke-width="0.8" />
<text x="411" y="309.74" font-size="7.0" text-anchor="end" fill="#f8766d"  stroke="#f8766d" stroke-width="0.22">0.6</text>
<line x1="414.8" y1="324.76" x2="417.4" y2="324.76" stroke="#fbc4bf" stroke-width="0.8" />
<text x="411" y="327.26" font-size="7.0" text-anchor="end" fill="#f8766d"  stroke="#f8766d" stroke-width="0.22">0.4</text>
<line x1="414.8" y1="342.28" x2="417.4" y2="342.28" stroke="#fbc4bf" stroke-width="0.8" />
<text x="411" y="344.78" font-size="7.0" text-anchor="end" fill="#f8766d"  stroke="#f8766d" stroke-width="0.22">0.2</text>
<line x1="414.8" y1="359.8" x2="417.4" y2="359.8" stroke="#fbc4bf" stroke-width="0.8" />
<text x="411" y="362.3" font-size="7.0" text-anchor="end" fill="#f8766d"  stroke="#f8766d" stroke-width="0.22">0</text>
<line x1="518.5" y1="348.7" x2="521.1" y2="348.7" stroke="#b5d5ee" stroke-width="0.8" />
<text x="524.8" y="351.2" font-size="7.0" text-anchor="start" fill="#5898cf"  stroke="#5898cf" stroke-width="0.22">0</text>
<line x1="518.5" y1="326.7" x2="521.1" y2="326.7" stroke="#b5d5ee" stroke-width="0.8" />
<text x="524.8" y="329.2" font-size="7.0" text-anchor="start" fill="#5898cf"  stroke="#5898cf" stroke-width="0.22">10</text>
<line x1="518.5" y1="304.7" x2="521.1" y2="304.7" stroke="#b5d5ee" stroke-width="0.8" />
<text x="524.8" y="307.2" font-size="7.0" text-anchor="start" fill="#5898cf"  stroke="#5898cf" stroke-width="0.22">20</text>
<line x1="518.5" y1="282.7" x2="521.1" y2="282.7" stroke="#b5d5ee" stroke-width="0.8" />
<text x="524.8" y="285.2" font-size="7.0" text-anchor="start" fill="#5898cf"  stroke="#5898cf" stroke-width="0.22">30</text>
<line x1="425.4" y1="360.1" x2="425.4" y2="362.9" stroke="#8c8c8c" stroke-width="0.8" />
<text x="425.4" y="372" font-size="7.0" text-anchor="middle" fill="#231f20"  stroke="#231f20" stroke-width="0.22">1</text>
<line x1="453.67" y1="360.1" x2="453.67" y2="362.9" stroke="#8c8c8c" stroke-width="0.8" />
<text x="453.67" y="372" font-size="7.0" text-anchor="middle" fill="#231f20"  stroke="#231f20" stroke-width="0.22">10</text>
<line x1="481.94" y1="360.1" x2="481.94" y2="362.9" stroke="#8c8c8c" stroke-width="0.8" />
<text x="481.94" y="372" font-size="7.0" text-anchor="middle" fill="#231f20"  stroke="#231f20" stroke-width="0.22">100</text>
<line x1="510.21" y1="360.1" x2="510.21" y2="362.9" stroke="#8c8c8c" stroke-width="0.8" />
<text x="510.21" y="372" font-size="7.0" text-anchor="middle" fill="#231f20"  stroke="#231f20" stroke-width="0.22">1,000</text>
<text x="467" y="385.5" font-size="7.2" text-anchor="middle" fill="#231f20"  stroke="#231f20" stroke-width="0.22">Resistance (Ω)</text>
<text x="394.8" y="316.7" font-size="7.2" text-anchor="middle" fill="#f8766d" transform="rotate(-90 394.8 316.7)" stroke="#f8766d" stroke-width="0.22"><tspan font-style="italic">I</tspan> (mA)</text>
<text x="539.4" y="315" font-size="7.2" text-anchor="middle" fill="#5898cf" transform="rotate(90 539.4 315)" stroke="#5898cf" stroke-width="0.22">Power (µW)</text>
<polyline points="425.4,278.2 426.06,278.26 426.89,278.33 427.86,278.42 428.95,278.51 430.13,278.61 431.39,278.72 432.69,278.84 434.03,278.97 435.37,279.11 436.69,279.26 437.98,279.43 439.2,279.6 440.4,279.79 441.64,279.99 442.91,280.2 444.19,280.43 445.47,280.66 446.76,280.91 448.02,281.16 449.27,281.42 450.48,281.68 451.64,281.95 452.75,282.23 453.8,282.5 454.79,282.78 455.73,283.06 456.63,283.34 457.49,283.63 458.32,283.93 459.11,284.23 459.88,284.54 460.63,284.86 461.37,285.18 462.08,285.51 462.79,285.85 463.5,286.2 464.19,286.55 464.84,286.88 465.47,287.21 466.08,287.54 466.67,287.87 467.25,288.23 467.82,288.6 468.39,289 468.95,289.43 469.52,289.9 470.1,290.42 470.7,291 471.3,291.63 471.91,292.29 472.52,293 473.13,293.74 473.73,294.51 474.34,295.32 474.95,296.16 475.56,297.02 476.17,297.91 476.78,298.82 477.39,299.75 478,300.7 478.61,301.68 479.22,302.69 479.83,303.74 480.44,304.82 481.05,305.92 481.66,307.04 482.27,308.18 482.87,309.34 483.48,310.5 484.09,311.67 484.7,312.83 485.3,314 485.9,315.18 486.5,316.37 487.1,317.59 487.7,318.82 488.3,320.06 488.9,321.3 489.5,322.54 490.1,323.78 490.7,325.01 491.3,326.23 491.9,327.42 492.5,328.6 493.11,329.77 493.72,330.96 494.35,332.16 494.97,333.35 495.6,334.54 496.22,335.71 496.84,336.85 497.45,337.96 498.06,339.03 498.65,340.05 499.23,341.01 499.8,341.9 500.35,342.73 500.89,343.51 501.41,344.23 501.93,344.91 502.43,345.55 502.93,346.16 503.43,346.72 503.92,347.26 504.41,347.78 504.9,348.27 505.4,348.74 505.9,349.2 506.42,349.64 506.98,350.06 507.55,350.44 508.13,350.81 508.71,351.14 509.28,351.46 509.83,351.74 510.35,352 510.82,352.24 511.25,352.45 511.61,352.64 511.9,352.8" fill="none" stroke="#f8766d" stroke-width="0.8" stroke-linejoin="round" />
<polyline points="425.4,347 426.06,346.7 426.89,346.34 427.86,345.92 428.95,345.45 430.13,344.93 431.39,344.38 432.69,343.8 434.03,343.2 435.37,342.58 436.69,341.95 437.98,341.32 439.2,340.7 440.41,340.07 441.67,339.42 442.97,338.76 444.28,338.07 445.6,337.38 446.91,336.66 448.2,335.94 449.45,335.2 450.65,334.46 451.79,333.71 452.84,332.96 453.8,332.2 454.66,331.45 455.44,330.72 456.15,330 456.79,329.28 457.38,328.55 457.93,327.8 458.45,327.03 458.96,326.22 459.45,325.37 459.95,324.48 460.46,323.52 461,322.5 461.55,321.4 462.09,320.22 462.63,318.97 463.16,317.67 463.68,316.33 464.19,314.96 464.7,313.57 465.2,312.17 465.69,310.79 466.17,309.42 466.64,308.09 467.1,306.8 467.55,305.53 467.99,304.24 468.41,302.95 468.83,301.65 469.23,300.37 469.63,299.09 470.03,297.84 470.42,296.63 470.81,295.44 471.2,294.31 471.6,293.22 472,292.2 472.41,291.22 472.82,290.28 473.24,289.37 473.65,288.5 474.07,287.66 474.48,286.87 474.89,286.11 475.29,285.4 475.69,284.73 476.07,284.11 476.44,283.53 476.8,283 477.14,282.53 477.47,282.12 477.78,281.76 478.09,281.46 478.38,281.2 478.67,280.98 478.95,280.78 479.24,280.62 479.52,280.47 479.81,280.34 480.1,280.22 480.4,280.1 480.7,279.98 481,279.88 481.29,279.79 481.59,279.72 481.88,279.67 482.17,279.64 482.48,279.64 482.78,279.67 483.1,279.72 483.42,279.81 483.75,279.94 484.1,280.1 484.46,280.28 484.82,280.46 485.19,280.64 485.57,280.85 485.96,281.08 486.35,281.36 486.75,281.69 487.16,282.09 487.58,282.55 488.01,283.1 488.45,283.75 488.9,284.5 489.36,285.37 489.84,286.36 490.34,287.46 490.84,288.64 491.35,289.9 491.87,291.21 492.4,292.57 492.93,293.96 493.45,295.36 493.97,296.76 494.49,298.15 495,299.5 495.5,300.86 496,302.26 496.5,303.7 497,305.16 497.5,306.63 498,308.11 498.5,309.58 499,311.03 499.5,312.46 500,313.86 500.5,315.21 501,316.5 501.51,317.76 502.02,319 502.54,320.23 503.06,321.43 503.58,322.61 504.09,323.76 504.61,324.87 505.12,325.95 505.63,326.98 506.13,327.97 506.62,328.91 507.1,329.8 507.59,330.64 508.09,331.45 508.61,332.22 509.12,332.95 509.63,333.64 510.13,334.28 510.61,334.88 511.06,335.43 511.47,335.93 511.83,336.38 512.15,336.77 512.4,337.1" fill="none" stroke="#5898cf" stroke-width="0.8" stroke-linejoin="round" />
<circle cx="425.4" cy="278.2" r="1.75" fill="#f8766d"/>
<circle cx="453.8" cy="282.5" r="1.75" fill="#f8766d"/>
<circle cx="467.3" cy="289.3" r="1.75" fill="#f8766d"/>
<circle cx="471.9" cy="291.7" r="1.75" fill="#f8766d"/>
<circle cx="474.9" cy="297.6" r="1.75" fill="#f8766d"/>
<circle cx="476.1" cy="298.5" r="1.75" fill="#f8766d"/>
<circle cx="479.5" cy="305.1" r="1.75" fill="#f8766d"/>
<circle cx="482.4" cy="310.9" r="1.75" fill="#f8766d"/>
<circle cx="490.6" cy="326.2" r="1.75" fill="#f8766d"/>
<circle cx="501.5" cy="345.1" r="1.75" fill="#f8766d"/>
<circle cx="510.2" cy="352.3" r="1.75" fill="#f8766d"/>
<circle cx="425.4" cy="347" r="1.75" fill="#5898cf"/>
<circle cx="453.8" cy="332.2" r="1.75" fill="#5898cf"/>
<circle cx="467.3" cy="306.8" r="1.75" fill="#5898cf"/>
<circle cx="472.2" cy="290.8" r="1.75" fill="#5898cf"/>
<circle cx="474.4" cy="287.4" r="1.75" fill="#5898cf"/>
<circle cx="475.6" cy="285.7" r="1.75" fill="#5898cf"/>
<circle cx="479.5" cy="280.6" r="1.75" fill="#5898cf"/>
<circle cx="482.4" cy="280.6" r="1.75" fill="#5898cf"/>
<circle cx="490.6" cy="285.4" r="1.75" fill="#5898cf"/>
<circle cx="501.5" cy="316.9" r="1.75" fill="#5898cf"/>
<circle cx="510.2" cy="331.7" r="1.75" fill="#5898cf"/>
<defs><filter id="fi1" x="0" y="0" width="100%" height="100%" color-interpolation-filters="sRGB">
<feTurbulence type="turbulence" baseFrequency="0.085" numOctaves="3" seed="2" result="n"/>
<feColorMatrix in="n" type="matrix" values="0 0 0 0 0.12  0 0 0 0 0.6  0 0 0 0 0.1  -3.0 0 0 0 1.0" result="c"/>
<feGaussianBlur in="c" stdDeviation="0.6"/>
</filter>
<filter id="fi3" x="0" y="0" width="100%" height="100%" color-interpolation-filters="sRGB">
<feTurbulence type="fractalNoise" baseFrequency="0.2" numOctaves="3" seed="5" result="n"/>
<feColorMatrix in="n" type="matrix" values="0 0 0 0 0.05  0 0 0 0 0.5  0 0 0 0 0.05  3.4 0 0 0 -1.8" result="c"/>
<feGaussianBlur in="c" stdDeviation="0.5"/>
</filter>
<filter id="fi2" x="0" y="0" width="100%" height="100%" color-interpolation-filters="sRGB">
<feTurbulence type="fractalNoise" baseFrequency="0.045" numOctaves="2" seed="9" result="n"/>
<feColorMatrix in="n" type="matrix" values="0 0 0 0 0  0 0 0 0 0  0 0 0 0 0  -4 0 0 0 2.2"/>
</filter>
<filter id="fb" x="-50%" y="-50%" width="200%" height="200%"><feGaussianBlur stdDeviation="1.0"/></filter>
<clipPath id="ci"><rect x="566" y="140.8" width="119" height="88.5"/></clipPath></defs>
<g clip-path="url(#ci)">
<rect x="566" y="140.8" width="119" height="88.5" fill="#031c03"/>
<rect x="566" y="140.8" width="119" height="88.5" filter="url(#fi3)"/>
<rect x="566" y="140.8" width="119" height="88.5" filter="url(#fi1)" opacity="0.45"/>
<rect x="566" y="140.8" width="119" height="88.5" filter="url(#fi2)" opacity="0.5"/>
<g filter="url(#fb)"><circle cx="580" cy="165" r="1.3" fill="rgb(40,200,40)"/><circle cx="600" cy="175" r="1.1" fill="rgb(38,190,38)"/><circle cx="662" cy="163" r="1.2" fill="rgb(44,220,44)"/><circle cx="669" cy="166" r="1.3" fill="rgb(46,230,46)"/><circle cx="678" cy="148" r="1.2" fill="rgb(42,210,42)"/><circle cx="603" cy="208" r="1.4" fill="rgb(36,180,36)"/><circle cx="631" cy="207" r="1.2" fill="rgb(40,200,40)"/><circle cx="646" cy="150" r="1.0" fill="rgb(34,170,34)"/><circle cx="620" cy="160" r="1.0" fill="rgb(32,160,32)"/><circle cx="655" cy="190" r="0.9" fill="rgb(34,170,34)"/><circle cx="588" cy="150" r="1.0" fill="rgb(34,170,34)"/><circle cx="640" cy="180" r="0.9" fill="rgb(32,160,32)"/><circle cx="675" cy="215" r="1.0" fill="rgb(34,170,34)"/><circle cx="610" cy="190" r="0.8" fill="rgb(30,150,30)"/><circle cx="585.63" cy="201.7" r="0.54" fill="rgb(31,191,31)"/><circle cx="666.35" cy="228.1" r="0.8" fill="rgb(28,170,28)"/><circle cx="626.98" cy="185.45" r="0.79" fill="rgb(23,140,23)"/><circle cx="567.68" cy="223.08" r="0.43" fill="rgb(27,164,27)"/><circle cx="660.46" cy="161.44" r="0.75" fill="rgb(23,139,23)"/><circle cx="617.99" cy="228.59" r="0.71" fill="rgb(27,162,27)"/><circle cx="570.05" cy="169.95" r="0.75" fill="rgb(28,173,28)"/><circle cx="643.21" cy="223.54" r="0.48" fill="rgb(18,112,18)"/><circle cx="663.28" cy="151.99" r="0.63" fill="rgb(18,112,18)"/><circle cx="631.69" cy="171.18" r="0.48" fill="rgb(28,172,28)"/><circle cx="645.15" cy="182.35" r="0.44" fill="rgb(23,140,23)"/><circle cx="589.49" cy="200.29" r="0.78" fill="rgb(32,194,32)"/><circle cx="656.77" cy="192.11" r="0.46" fill="rgb(19,119,19)"/><circle cx="622.68" cy="213.78" r="0.57" fill="rgb(22,135,22)"/><circle cx="583.39" cy="188.15" r="0.58" fill="rgb(24,147,24)"/><circle cx="619.71" cy="174.95" r="0.59" fill="rgb(28,172,28)"/><circle cx="569.19" cy="149.21" r="0.4" fill="rgb(28,173,28)"/><circle cx="574.34" cy="193.75" r="0.51" fill="rgb(29,176,29)"/><circle cx="638.46" cy="189.97" r="0.46" fill="rgb(31,189,31)"/><circle cx="645.69" cy="196.13" r="0.57" fill="rgb(25,152,25)"/><circle cx="637.07" cy="167.98" r="0.48" fill="rgb(20,123,20)"/><circle cx="675.85" cy="156.31" r="0.59" fill="rgb(27,164,27)"/><circle cx="647.32" cy="200.48" r="0.88" fill="rgb(32,194,32)"/><circle cx="614.43" cy="228.04" r="0.41" fill="rgb(30,185,30)"/><circle cx="607.25" cy="185.54" r="0.52" fill="rgb(32,195,32)"/><circle cx="670.26" cy="155.28" r="0.62" fill="rgb(19,118,19)"/><circle cx="614.49" cy="206.24" r="0.82" fill="rgb(19,117,19)"/><circle cx="572.21" cy="163.7" r="0.42" fill="rgb(24,147,24)"/><circle cx="595.58" cy="175.72" r="0.72" fill="rgb(25,153,25)"/><circle cx="583.39" cy="154.31" r="0.42" fill="rgb(28,171,28)"/><circle cx="582.61" cy="198.22" r="0.41" fill="rgb(28,171,28)"/><circle cx="591.24" cy="214.77" r="0.84" fill="rgb(21,129,21)"/><circle cx="637.56" cy="178.5" r="0.85" fill="rgb(30,184,30)"/><circle cx="622.75" cy="153.21" r="0.54" fill="rgb(30,185,30)"/><circle cx="657.42" cy="141.9" r="0.46" fill="rgb(32,197,32)"/><circle cx="651.17" cy="164.27" r="0.72" fill="rgb(25,151,25)"/><circle cx="667.35" cy="192.42" r="0.74" fill="rgb(23,142,23)"/><circle cx="655.44" cy="212.47" r="0.47" fill="rgb(21,127,21)"/><circle cx="577.29" cy="149.27" r="0.72" fill="rgb(18,113,18)"/><circle cx="659.55" cy="147.33" r="0.73" fill="rgb(20,125,20)"/><circle cx="581.06" cy="188.4" r="0.6" fill="rgb(25,151,25)"/><circle cx="671.67" cy="195.67" r="0.49" fill="rgb(22,133,22)"/><circle cx="610.96" cy="203.48" r="0.78" fill="rgb(30,180,30)"/><circle cx="637.86" cy="185.43" r="0.8" fill="rgb(19,117,19)"/><circle cx="566.93" cy="181.82" r="0.6" fill="rgb(19,118,19)"/><circle cx="633.47" cy="216.19" r="0.53" fill="rgb(23,139,23)"/><circle cx="648.91" cy="168.6" r="0.52" fill="rgb(19,115,19)"/><circle cx="584.58" cy="204.9" r="0.81" fill="rgb(24,147,24)"/><circle cx="661.57" cy="184.13" r="0.45" fill="rgb(30,183,30)"/><circle cx="637.54" cy="185.72" r="0.88" fill="rgb(25,151,25)"/><circle cx="602.91" cy="202.55" r="0.78" fill="rgb(29,177,29)"/><circle cx="588.56" cy="195.25" r="0.89" fill="rgb(25,151,25)"/><circle cx="608.27" cy="168.99" r="0.45" fill="rgb(27,163,27)"/><circle cx="575.06" cy="147.45" r="0.65" fill="rgb(27,167,27)"/><circle cx="678.7" cy="200.83" r="0.62" fill="rgb(33,200,33)"/><circle cx="627.57" cy="175.27" r="0.44" fill="rgb(26,161,26)"/><circle cx="568.97" cy="199.21" r="0.52" fill="rgb(19,115,19)"/><circle cx="649.8" cy="212.92" r="0.63" fill="rgb(27,164,27)"/><circle cx="594.14" cy="174.92" r="0.51" fill="rgb(28,172,28)"/><circle cx="674.85" cy="198.58" r="0.64" fill="rgb(19,114,19)"/><circle cx="624.53" cy="204.11" r="0.79" fill="rgb(22,137,22)"/><circle cx="640.59" cy="207.75" r="0.77" fill="rgb(32,195,32)"/><circle cx="638.07" cy="213.18" r="0.52" fill="rgb(23,143,23)"/><circle cx="675.08" cy="174.96" r="0.59" fill="rgb(31,188,31)"/><circle cx="628.38" cy="203.6" r="0.48" fill="rgb(18,110,18)"/><circle cx="590.04" cy="218.06" r="0.45" fill="rgb(21,128,21)"/><circle cx="586.86" cy="186.97" r="0.87" fill="rgb(31,189,31)"/><circle cx="654.34" cy="181.69" r="0.9" fill="rgb(20,123,20)"/><circle cx="585.81" cy="179.13" r="0.57" fill="rgb(32,196,32)"/><circle cx="642.35" cy="200.98" r="0.44" fill="rgb(23,143,23)"/><circle cx="569.4" cy="186.29" r="0.85" fill="rgb(21,129,21)"/><circle cx="626.34" cy="161.98" r="0.54" fill="rgb(33,198,33)"/><circle cx="611.1" cy="223.78" r="0.6" fill="rgb(28,169,28)"/><circle cx="620.83" cy="199.59" r="0.49" fill="rgb(32,195,32)"/><circle cx="611.77" cy="164.97" r="0.89" fill="rgb(22,134,22)"/><circle cx="591.61" cy="171.85" r="0.87" fill="rgb(31,190,31)"/><circle cx="649.85" cy="142.67" r="0.69" fill="rgb(29,174,29)"/><circle cx="613.38" cy="179.83" r="0.52" fill="rgb(27,167,27)"/><circle cx="566.9" cy="188.91" r="0.89" fill="rgb(20,122,20)"/><circle cx="588.65" cy="173.61" r="0.59" fill="rgb(18,110,18)"/><circle cx="582.06" cy="210.67" r="0.66" fill="rgb(27,165,27)"/><circle cx="571.85" cy="157.51" r="0.84" fill="rgb(26,161,26)"/><circle cx="595.07" cy="191.59" r="0.86" fill="rgb(30,184,30)"/><circle cx="671.14" cy="142.55" r="0.44" fill="rgb(30,184,30)"/><circle cx="617.86" cy="214.28" r="0.49" fill="rgb(32,194,32)"/><circle cx="573.1" cy="212.74" r="0.67" fill="rgb(31,187,31)"/><circle cx="624.48" cy="200.77" r="0.57" fill="rgb(32,196,32)"/><circle cx="598.1" cy="172.08" r="0.72" fill="rgb(24,148,24)"/><circle cx="567.1" cy="212.01" r="0.43" fill="rgb(32,195,32)"/><circle cx="626.9" cy="200.66" r="0.58" fill="rgb(22,134,22)"/><ellipse cx="569.5" cy="218.5" rx="4.5" ry="6" fill="rgb(60,200,60)"/><ellipse cx="592.5" cy="210" rx="1.4" ry="4.5" fill="rgb(50,170,50)" transform="rotate(40 592.5 210)"/><ellipse cx="580" cy="196" rx="14" ry="15" fill="#011001" opacity="0.75"/><ellipse cx="670" cy="209" rx="16" ry="11" fill="#011001" opacity="0.7"/><ellipse cx="640" cy="166" rx="10" ry="8" fill="#011001" opacity="0.45"/><ellipse cx="612" cy="222" rx="12" ry="6" fill="#011001" opacity="0.5"/><ellipse cx="568.5" cy="217" rx="5" ry="7" fill="rgb(70,215,70)"/><ellipse cx="574" cy="225" rx="4" ry="3" fill="rgb(50,170,50)"/><circle cx="662.8" cy="161.8" r="1.6" fill="rgb(60,230,60)"/><circle cx="631.8" cy="205.2" r="1.4" fill="rgb(60,220,60)"/><circle cx="582" cy="166" r="1.5" fill="rgb(60,220,60)"/></g>
</g>
<rect x="662.4" y="221.3" width="15.1" height="2.6" fill="#fff"/>
<line x1="579.8" y1="271.3" x2="680.5" y2="271.3" stroke="#8c8c8c" stroke-width="0.9" />
<line x1="579.8" y1="360.3" x2="680.5" y2="360.3" stroke="#8c8c8c" stroke-width="0.9" />
<line x1="579.8" y1="271.3" x2="579.8" y2="360.3" stroke="#8c8c8c" stroke-width="0.9" />
<line x1="680.5" y1="271.3" x2="680.5" y2="360.3" stroke="#8c8c8c" stroke-width="0.9" />
<line x1="577.2" y1="284.8" x2="579.8" y2="284.8" stroke="#8c8c8c" stroke-width="0.8" />
<text x="572.8" y="287.3" font-size="7.0" text-anchor="end" fill="#231f20"  stroke="#231f20" stroke-width="0.22">1.0</text>
<line x1="577.2" y1="299.78" x2="579.8" y2="299.78" stroke="#8c8c8c" stroke-width="0.8" />
<text x="572.8" y="302.28" font-size="7.0" text-anchor="end" fill="#231f20"  stroke="#231f20" stroke-width="0.22">0.8</text>
<line x1="577.2" y1="314.76" x2="579.8" y2="314.76" stroke="#8c8c8c" stroke-width="0.8" />
<text x="572.8" y="317.26" font-size="7.0" text-anchor="end" fill="#231f20"  stroke="#231f20" stroke-width="0.22">0.6</text>
<line x1="577.2" y1="329.74" x2="579.8" y2="329.74" stroke="#8c8c8c" stroke-width="0.8" />
<text x="572.8" y="332.24" font-size="7.0" text-anchor="end" fill="#231f20"  stroke="#231f20" stroke-width="0.22">0.4</text>
<line x1="577.2" y1="344.72" x2="579.8" y2="344.72" stroke="#8c8c8c" stroke-width="0.8" />
<text x="572.8" y="347.22" font-size="7.0" text-anchor="end" fill="#231f20"  stroke="#231f20" stroke-width="0.22">0.2</text>
<line x1="577.2" y1="359.7" x2="579.8" y2="359.7" stroke="#8c8c8c" stroke-width="0.8" />
<text x="572.8" y="362.2" font-size="7.0" text-anchor="end" fill="#231f20"  stroke="#231f20" stroke-width="0.22">0</text>
<rect x="583.1" y="284.8" width="26.4" height="75.5" fill="#be334b" stroke="#5a1a24" stroke-width="0.5"/>
<rect x="616.4" y="287" width="27.2" height="73.3" fill="#007000" stroke="#003000" stroke-width="0.5"/>
<rect x="650.2" y="358.9" width="26.8" height="1.2" fill="#b2aa80"/>
<line x1="630" y1="282.4" x2="630" y2="290.3" stroke="#000" stroke-width="0.7" />
<line x1="628.8" y1="282.4" x2="631.2" y2="282.4" stroke="#000" stroke-width="0.7" />
<line x1="628.8" y1="290.3" x2="631.2" y2="290.3" stroke="#000" stroke-width="0.7" />
<line x1="663.6" y1="358.3" x2="663.6" y2="359.3" stroke="#000" stroke-width="0.7" />
<text x="596.3" y="368.6" font-size="7.0" text-anchor="middle" fill="#231f20"  stroke="#231f20" stroke-width="0.22">Control</text>
<text x="630.1" y="368.6" font-size="7.0" text-anchor="middle" fill="#231f20"  stroke="#231f20" stroke-width="0.22">MEG</text>
<text x="664.4" y="368.6" font-size="7.0" text-anchor="middle" fill="#231f20"  stroke="#231f20" stroke-width="0.22">20% DMSO</text>
<text x="556.8" y="316" font-size="7.2" text-anchor="middle" fill="#231f20" transform="rotate(-90 556.8 316)" stroke="#231f20" stroke-width="0.22">Relative cell viability</text>
</svg>
</body></html>
